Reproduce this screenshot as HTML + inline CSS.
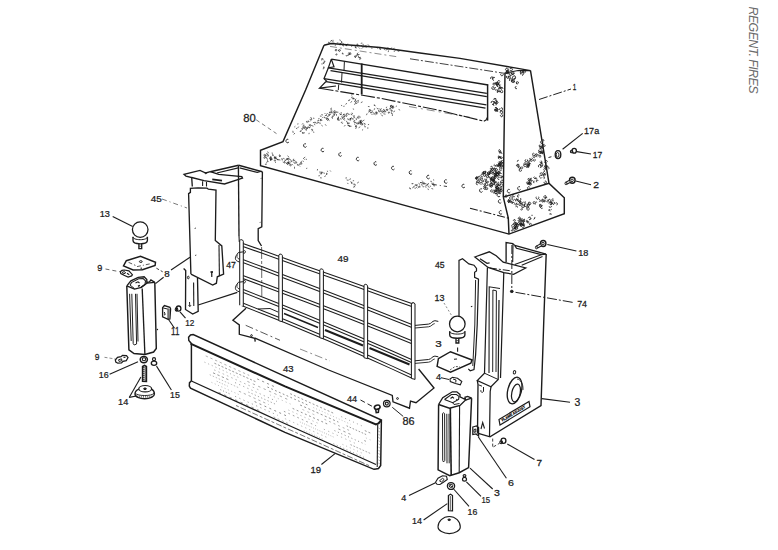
<!DOCTYPE html><html><head><meta charset="utf-8"><title>Exploded view</title><style>html,body{margin:0;padding:0;background:#fff}svg{display:block}text{font-family:"Liberation Sans",sans-serif;fill:#1c1c1c;stroke:#1c1c1c;stroke-width:0.25px}</style></head><body><svg width="778" height="550" viewBox="0 0 778 550"><rect width="778" height="550" fill="#fff"/>
<path d="M324.0 45.3 L305.6 90.0 L283.0 141.6 L260.5 150.3 L260.5 165.8 L509.0 234.1 L564.3 213.8 L564.3 197.8 L549.0 183.3 L530.5 70.6" fill="none" stroke="#1c1c1c" stroke-width="1.44"/>
<path d="M324.0 45.3 L331.0 43.6 L380.0 47.5 L420.0 53.0 L460.0 58.4 L515.0 67.9 L530.5 70.6" fill="none" stroke="#1c1c1c" stroke-width="1.46"/>
<path d="M330.0 46.4 L398.0 56.9" fill="none" stroke="#1c1c1c" stroke-width="0.85" stroke-dasharray="7 3 2 3" opacity="0.6"/>
<path d="M410.0 58.8 L504.4 73.3" fill="none" stroke="#1c1c1c" stroke-width="0.98" stroke-dasharray="9 2 2 2" opacity="0.85"/>
<path d="M504.4 73.3 L518.0 70.5 L530.5 70.6" fill="none" stroke="#1c1c1c" stroke-width="1.10"/>
<path d="M505.0 73.3 L504.0 140.0 L503.3 197.1" fill="none" stroke="#1c1c1c" stroke-width="1.46"/>
<path d="M503.3 197.1 L549.0 183.3" fill="none" stroke="#1c1c1c" stroke-width="1.46"/>
<path d="M503.3 197.1 L508.3 218.1 L509.0 234.1" fill="none" stroke="#1c1c1c" stroke-width="1.46"/>
<path d="M470.0 208.2 L508.3 218.1" fill="none" stroke="#1c1c1c" stroke-width="1.10" stroke-dasharray="8 2 2 2"/>
<path d="M420.0 182.5 L447.0 186.5" fill="none" stroke="#1c1c1c" stroke-width="0.85" stroke-dasharray="5 3 1 3"/>
<path d="M331.3 59.1 L488.2 85.0" fill="none" stroke="#1c1c1c" stroke-width="1.46"/>
<path d="M328.4 67.8 L486.8 93.4" fill="none" stroke="#1c1c1c" stroke-width="1.34"/>
<path d="M330.5 70.7 L486.8 96.6" fill="none" stroke="#1c1c1c" stroke-width="1.22"/>
<path d="M324.0 78.7 L486.4 104.9" fill="none" stroke="#1c1c1c" stroke-width="1.34"/>
<path d="M326.0 81.6 L485.5 108.2" fill="none" stroke="#1c1c1c" stroke-width="1.22"/>
<path d="M319.6 88.2 L380.0 98.2 L440.0 110.5 L483.8 121.2" fill="none" stroke="#1c1c1c" stroke-width="1.10" stroke-dasharray="14 2 3 2"/>
<path d="M409.0 106.5 L470.0 117.3" fill="none" stroke="#1c1c1c" stroke-width="0.85" stroke-dasharray="8 4 2 4" opacity="0.6"/>
<path d="M483.8 121.2 L486.0 120.0 L487.6 117.0" fill="none" stroke="#1c1c1c" stroke-width="1.10"/>
<path d="M487.6 84.5 L487.6 120.6" fill="none" stroke="#1c1c1c" stroke-width="1.46"/>
<path d="M331.3 59.1 L328.4 67.8 L334.0 66.8 L331.3 59.1" fill="none" stroke="#1c1c1c" stroke-width="1.22"/>
<path d="M328.4 67.8 L324.0 78.7 L326.5 81.0 L319.6 88.2 L336.0 86.0" fill="none" stroke="#1c1c1c" stroke-width="1.22"/>
<path d="M361.7 63.5 L361.7 94.5" fill="none" stroke="#1c1c1c" stroke-width="1.83"/>
<path d="M344.4 61.5 L344.0 70.5" fill="none" stroke="#1c1c1c" stroke-width="0.98"/>
<path d="M342.0 73.0 L341.5 82.5" fill="none" stroke="#1c1c1c" stroke-width="0.98"/>
<path d="M338.7 84.5 L338.3 90.0" fill="none" stroke="#1c1c1c" stroke-width="0.98"/>
<path d="M288.3 139.4a1.6 1.8 0 1 0 0.6 2.6" fill="none" stroke="#1c1c1c" stroke-width="0.9"/>
<path d="M305.9 143.9a1.6 1.8 0 1 0 0.6 2.6" fill="none" stroke="#1c1c1c" stroke-width="0.9"/>
<path d="M323.5 148.4a1.6 1.8 0 1 0 0.6 2.6" fill="none" stroke="#1c1c1c" stroke-width="0.9"/>
<path d="M341.1 152.9a1.6 1.8 0 1 0 0.6 2.6" fill="none" stroke="#1c1c1c" stroke-width="0.9"/>
<path d="M358.7 157.4a1.6 1.8 0 1 0 0.6 2.6" fill="none" stroke="#1c1c1c" stroke-width="0.9"/>
<path d="M376.3 161.9a1.6 1.8 0 1 0 0.6 2.6" fill="none" stroke="#1c1c1c" stroke-width="0.9"/>
<path d="M393.9 166.4a1.6 1.8 0 1 0 0.6 2.6" fill="none" stroke="#1c1c1c" stroke-width="0.9"/>
<path d="M411.5 170.9a1.6 1.8 0 1 0 0.6 2.6" fill="none" stroke="#1c1c1c" stroke-width="0.9"/>
<path d="M429.1 175.4a1.6 1.8 0 1 0 0.6 2.6" fill="none" stroke="#1c1c1c" stroke-width="0.9"/>
<path d="M446.7 179.9a1.6 1.8 0 1 0 0.6 2.6" fill="none" stroke="#1c1c1c" stroke-width="0.9"/>
<path d="M464.3 184.4a1.6 1.8 0 1 0 0.6 2.6" fill="none" stroke="#1c1c1c" stroke-width="0.9"/>
<path d="M481.9 188.9a1.6 1.8 0 1 0 0.6 2.6" fill="none" stroke="#1c1c1c" stroke-width="0.9"/>
<path d="M499.5 193.4a1.6 1.8 0 1 0 0.6 2.6" fill="none" stroke="#1c1c1c" stroke-width="0.9"/>
<path d="M500.7 199.8a1.6 1.8 0 1 0 0.6 2.6" fill="none" stroke="#1c1c1c" stroke-width="0.9"/>
<path d="M509.7 189.5a1.6 1.8 0 1 0 0.6 2.6" fill="none" stroke="#1c1c1c" stroke-width="0.9"/>
<path d="M520.0 186.8a1.6 1.8 0 1 0 0.6 2.6" fill="none" stroke="#1c1c1c" stroke-width="0.9"/>
<path d="M501.5 210.8a1.6 1.8 0 1 0 0.6 2.6" fill="none" stroke="#1c1c1c" stroke-width="0.9"/>
<path d="M351.8 46.0l-0.1 0.5M355.0 45.4l0.1 0.4M334.0 43.1l1.1 0.4M341.4 41.4l0.3 0.9M398.8 50.5l0.6 0.3M335.4 45.0l-0.1 0.5M371.6 48.2l0.4 0.1M341.8 42.2l-0.2 0.7M359.0 47.7l0.7 0.7M365.6 46.1l0.7 0.8M397.6 50.8l1.0 0.5M364.1 46.3l-0.2 1.1M388.5 50.8l-0.2 0.9M361.6 42.9l-0.4 0.7M331.7 40.5l-1.1 0.7M346.5 45.4l0.1 0.4M340.1 43.5l1.0 0.4M343.3 45.5l0.1 0.5M368.2 44.7l0.8 0.9M355.4 47.3l1.1 0.6M340.4 44.2l-0.2 0.8M347.7 44.0l-0.2 0.7M394.1 48.2l-0.5 0.8M333.6 40.9l-1.0 0.7M355.0 45.4l1.0 0.2M332.9 43.1l0.7 0.1M328.4 42.3l0.7 0.1M388.6 48.5l0.3 0.6M355.3 46.5l0.1 1.3M362.4 46.1l0.5 0.5M386.2 48.8l-0.1 1.3M338.0 42.9l-0.9 0.1M388.1 47.9l0.6 0.4M379.8 47.7l0.5 0.4M387.3 48.2l-0.9 0.6M380.0 49.4l0.7 0.1M329.8 43.0l-1.0 0.1M362.9 44.0l0.5 1.1M343.6 44.5l-0.2 0.5M391.8 47.9l-0.8 0.6M332.4 40.1l-0.8 0.8M362.5 47.8l-0.6 0.4M395.0 50.6l-0.8 1.0M340.4 43.7l-1.0 0.7M339.9 39.8l0.4 0.9M366.6 46.5l-0.6 1.1M366.1 45.6l-1.0 0.6M342.8 44.6l-0.2 0.6M345.6 44.3l0.5 1.1M357.6 44.1l-0.8 0.2M361.6 45.6l0.1 0.4M343.1 43.4l0.0 0.6M377.7 47.3l-0.1 0.9M384.2 49.3l0.4 0.5M380.4 48.1l-1.0 0.3M357.9 44.4l-0.5 0.7M358.2 45.2l-0.7 1.0M390.3 48.6l-0.9 0.2M387.2 49.2l0.8 0.2M346.6 44.6l-1.0 0.4" fill="none" stroke="#1c1c1c" stroke-width="0.8" stroke-linecap="round" opacity="0.8"/>
<path d="M340.1 51.1A1.0 0.8 0 1 1 340.4 50.7M360.2 56.9A0.9 0.9 0 1 1 358.6 56.3M348.5 55.8A0.9 0.9 0 1 1 349.6 54.4M348.3 53.4A0.8 1.0 0 1 1 349.0 54.7M357.2 55.6A0.6 0.6 0 1 1 357.7 55.5M336.6 53.5A0.7 0.8 0 1 1 335.6 54.4M351.4 53.9A0.9 0.7 0 1 1 350.8 52.8M359.3 54.1A0.9 1.1 0 1 1 358.1 52.7M347.4 55.2A0.7 0.7 0 1 1 346.0 55.3M343.6 53.8A0.7 0.6 0 1 1 342.9 52.9M355.6 57.5A0.7 0.7 0 1 1 355.3 56.1M336.5 50.8A0.8 0.7 0 1 1 336.8 50.5M356.0 55.4A0.8 0.8 0 1 1 355.0 55.6M359.6 57.6A0.9 0.8 0 1 1 359.1 58.8" fill="none" stroke="#1c1c1c" stroke-width="0.80"/>
<path d="M322.6 59.1l0.7 0.8M324.8 61.5l-0.6 1.0M323.2 63.0l0.7 0.4M323.5 67.6l-0.2 1.3M324.1 61.2l0.7 0.0M322.0 63.6l-0.0 0.6M322.0 58.6l0.8 0.1M321.8 59.2l-0.1 0.9M323.9 66.8l0.4 1.1M324.0 62.5l-0.5 0.9" fill="none" stroke="#1c1c1c" stroke-width="0.8" stroke-linecap="round" opacity="0.8"/>
<path d="M302.9 123.5l-0.6 0.7M328.1 120.0l-0.7 0.4M327.3 113.4l-0.7 1.0M321.7 119.7l0.2 0.5M303.7 124.8l-0.4 0.9M320.9 119.1l-0.8 0.8M310.5 120.9l-0.3 0.3M308.8 127.1l0.8 0.6M326.8 117.6l0.0 0.7M321.7 114.7l0.9 0.2M302.9 132.9l-0.1 0.7M300.8 130.7l-0.6 0.8M320.0 122.9l0.1 0.8M303.7 126.8l-1.3 0.3M292.9 131.2l0.2 1.3M309.1 133.2l-0.1 0.6M295.0 126.5l-0.4 0.3M319.1 118.6l-0.6 0.2M314.8 122.3l0.1 0.8M310.1 127.4l-0.6 0.3M298.1 123.9l-0.5 0.1M324.4 117.1l0.2 0.7M329.4 112.4l0.5 0.6M304.5 132.8l-0.6 0.1M306.1 129.8l0.2 0.5M334.9 110.8l-0.9 0.3M325.1 113.4l-0.3 0.3M313.4 118.2l0.6 0.1M332.0 117.8l0.4 0.6M325.6 117.8l0.6 0.8M315.4 122.3l0.4 0.3M326.5 115.5l-1.2 0.0M314.6 124.4l0.2 0.4M301.3 131.0l-0.9 0.3M320.7 119.7l0.3 0.8M311.9 125.6l1.2 0.5M310.7 117.3l0.4 0.4M303.6 128.1l-1.1 0.6M328.5 116.1l-1.0 0.3M314.0 122.4l-0.7 0.2M331.3 110.0l0.6 0.2M298.5 126.9l-0.8 1.0M320.3 116.1l0.9 0.1M325.4 124.6l0.6 0.8M302.3 132.5l1.0 0.4M296.2 128.2l0.6 0.5M321.1 120.6l-0.8 0.1M322.6 117.3l0.4 0.4M329.9 112.0l0.0 0.4M318.8 120.4l-1.0 0.2M308.6 127.0l-0.4 0.7M306.3 121.8l0.7 0.5M328.7 120.0l0.5 0.4M321.7 125.4l0.7 0.5M301.5 128.8l1.1 0.6M313.4 132.1l0.5 0.1M294.7 133.3l-0.8 0.9M334.5 112.8l-0.6 0.1M328.0 119.0l0.3 0.7M309.4 124.9l0.3 0.6" fill="none" stroke="#1c1c1c" stroke-width="0.8" stroke-linecap="round" opacity="0.8"/>
<path d="M338.2 119.9A0.7 0.8 0 1 1 338.7 119.5M317.3 123.8A1.0 0.9 0 1 1 318.9 123.2M333.9 114.4A0.9 0.7 0 1 1 332.8 115.8M304.1 125.9A1.0 0.9 0 1 1 303.3 127.2M330.7 111.4A0.7 0.6 0 1 1 330.3 112.6M329.9 114.6A0.6 0.6 0 1 1 328.9 114.4M335.4 113.6A0.8 0.9 0 1 1 336.1 112.9M308.2 120.6A0.9 0.8 0 1 1 307.1 120.8M308.1 128.2A0.7 0.6 0 1 1 308.1 127.6M305.5 129.7A1.0 1.2 0 1 1 306.1 129.7M309.3 125.5A0.9 0.8 0 1 1 310.3 126.3M310.9 118.3A0.9 0.8 0 1 1 310.0 118.9M326.9 119.9A0.9 0.8 0 1 1 328.4 119.4M311.3 129.8A0.7 0.9 0 1 1 311.7 130.9" fill="none" stroke="#1c1c1c" stroke-width="0.70"/>
<path d="M351.1 126.3l-1.0 0.0M330.0 114.6l-1.1 0.3M334.7 114.5l-0.6 0.0M356.2 118.5l0.2 1.2M344.0 106.1l-0.1 0.5M354.6 124.4l0.4 0.3M337.4 112.2l0.6 0.0M343.4 114.3l0.5 0.4M358.1 122.7l0.2 0.5M350.5 118.4l-0.3 0.4M346.4 121.1l0.7 1.0M349.5 123.2l-1.2 0.0M347.7 123.2l0.6 0.0M356.3 128.0l-0.7 0.3M349.1 119.0l-0.4 0.8M367.8 127.7l-0.0 0.7M337.7 118.8l1.2 0.4M353.2 109.0l0.5 0.2M368.7 124.5l-0.4 0.1M351.0 114.3l1.0 0.6M359.9 127.0l-1.0 0.6M340.7 118.5l0.3 0.8M338.1 120.1l1.2 0.2M352.0 118.8l1.1 0.4M347.8 118.7l0.2 0.7M347.4 122.8l0.2 0.8M331.3 109.2l-0.5 0.4M356.5 123.6l0.8 0.3M336.5 114.5l-0.0 0.8M334.2 111.3l-0.8 0.7M354.8 120.7l-0.7 0.1M346.7 103.5l-0.9 0.6M344.8 114.2l-1.2 0.3M341.5 105.3l0.2 0.4M362.8 129.7l-0.5 0.4M329.6 113.9l0.4 0.4M349.7 120.1l0.5 0.3M360.3 117.4l-0.4 0.3M332.1 112.5l-0.7 0.3M344.5 115.8l-0.5 0.0M348.5 125.2l-0.6 0.0M348.1 125.3l0.7 0.4M364.9 124.6l-0.3 0.6M360.4 122.7l0.7 0.0M338.4 116.9l-0.0 0.8M364.6 126.7l1.0 0.1M332.9 113.5l0.5 0.5M350.4 118.7l0.1 1.0M341.1 112.7l0.5 0.2M359.2 115.9l0.5 0.6M331.2 108.1l-0.3 0.6M354.2 115.7l-0.6 0.2M331.4 111.8l0.6 0.1M364.0 123.3l1.1 0.5M336.7 111.8l-0.8 0.5M338.4 117.6l-0.4 0.2M359.0 122.5l-0.8 0.8M348.7 114.1l0.6 0.2M344.9 116.1l-0.6 0.9M360.3 120.8l0.2 0.9M356.1 122.6l-1.0 0.1M341.5 114.6l0.5 0.4M364.0 120.2l-0.6 0.3M345.1 125.3l-0.6 0.8M359.8 120.7l-0.7 0.9M355.5 126.5l0.5 0.8M339.6 113.8l1.1 0.5M342.1 118.1l0.6 0.3M340.9 114.0l-0.6 0.8M362.5 124.5l-0.6 0.4" fill="none" stroke="#1c1c1c" stroke-width="0.8" stroke-linecap="round" opacity="0.8"/>
<path d="M362.2 120.7A1.0 0.8 0 1 1 361.8 120.4M343.4 115.9A0.9 1.0 0 1 1 342.3 115.9M355.3 122.4A0.9 0.8 0 1 1 354.5 121.0M351.2 119.5A0.9 0.8 0 1 1 352.3 118.5M357.6 123.1A0.6 0.6 0 1 1 357.8 124.0M355.4 126.1A0.7 0.6 0 1 1 355.5 126.5M360.9 123.2A0.9 0.7 0 1 1 361.3 123.0M344.8 120.0A0.8 0.9 0 1 1 345.1 118.7M346.7 116.5A0.9 0.7 0 1 1 347.4 115.5M360.2 122.5A0.9 0.9 0 1 1 359.6 123.4M343.1 123.0A1.0 0.8 0 1 1 341.8 121.7M346.6 114.9A1.0 0.9 0 1 1 348.2 114.5M351.7 112.9A0.7 0.6 0 1 1 351.7 114.1M358.6 118.2A0.8 0.8 0 1 1 359.0 117.7M332.8 117.7A0.7 0.7 0 1 1 333.3 116.7M362.5 124.9A0.7 0.6 0 1 1 363.2 124.2M349.3 125.5A0.6 0.5 0 1 1 349.0 125.6M353.6 116.4A0.8 0.8 0 1 1 353.2 117.7" fill="none" stroke="#1c1c1c" stroke-width="0.70"/>
<path d="M371.9 114.1l0.1 0.4M390.7 106.0l0.1 1.0M370.1 109.8l-1.0 0.3M377.0 108.3l0.6 0.5M392.9 106.0l-0.9 0.5M386.6 107.1l-0.3 0.6M367.0 113.8l-0.4 1.0M373.0 112.3l0.3 0.9M389.8 108.6l-0.8 0.6M372.6 110.9l-0.1 0.4M374.1 105.3l0.8 0.3M381.2 108.6l-0.4 0.8M390.2 108.3l1.0 0.8M385.1 112.0l-0.5 0.0M380.6 111.3l0.8 0.0M377.0 112.3l0.5 0.5M374.4 104.9l0.7 0.6M390.6 109.9l-0.4 0.3M390.3 106.6l0.7 0.6M394.7 111.1l-1.0 0.6M381.1 113.3l-0.4 0.3M379.9 108.9l0.5 0.5M380.9 110.5l0.7 0.8M374.4 113.8l-0.3 0.7M383.9 113.9l1.2 0.2M396.6 106.1l-0.5 0.3M387.4 109.5l-0.6 1.1M376.7 111.9l-0.5 0.4M381.6 115.2l1.0 0.6M391.2 105.6l-0.9 0.3M392.6 107.4l-0.1 1.0M385.3 111.1l0.6 0.7M377.0 113.4l0.0 0.5M369.3 111.6l-0.8 0.4M369.8 109.5l-0.4 0.8M391.3 110.6l1.2 0.3M386.7 109.0l-0.5 0.8M392.4 114.7l0.0 0.9M399.0 109.3l0.5 0.8M391.9 110.8l-0.7 0.6M371.8 112.2l-0.8 0.5M378.0 108.5l0.6 0.6M386.9 109.4l0.6 1.0M376.5 114.0l-0.8 0.6M368.3 106.5l0.9 0.1" fill="none" stroke="#1c1c1c" stroke-width="0.8" stroke-linecap="round" opacity="0.8"/>
<path d="M380.0 110.5A0.8 0.9 0 1 1 379.2 110.0M390.7 105.8A0.9 0.9 0 1 1 390.6 106.8M374.4 108.4A0.6 0.5 0 1 1 373.8 109.4M392.3 107.9A0.9 1.0 0 1 1 393.0 108.2M375.6 113.9A0.8 0.9 0 1 1 376.5 113.7M371.5 112.2A0.9 1.1 0 1 1 371.6 111.0M383.0 109.9A1.0 1.0 0 1 1 382.8 110.3M383.4 112.9A0.7 0.5 0 1 1 383.4 111.6M392.7 113.7A0.9 0.8 0 1 1 391.7 112.3M389.1 113.3A0.6 0.7 0 1 1 389.5 112.9" fill="none" stroke="#1c1c1c" stroke-width="0.70"/>
<path d="M358.5 100.2l-0.6 0.8M355.9 99.0l-0.8 1.0M352.7 98.3l1.1 0.3M353.0 98.0l0.1 1.2M349.0 100.0l-0.4 0.7M352.0 96.9l-0.4 0.9M351.8 101.5l-1.0 0.8M355.5 100.6l-0.8 1.0M357.1 103.0l-1.1 0.6M355.3 101.9l0.5 1.1M353.8 98.1l0.7 0.9M349.9 99.9l-0.8 0.5M362.2 102.0l-1.0 0.5M355.2 103.5l-0.6 0.9M358.7 101.8l-0.7 0.5M352.0 94.5l-0.2 0.6M355.6 100.6l-0.4 0.4M357.2 101.0l-0.8 0.7" fill="none" stroke="#1c1c1c" stroke-width="0.8" stroke-linecap="round" opacity="0.8"/>
<path d="M268.3 155.0l-0.1 1.2M282.0 158.8l0.5 0.3M290.4 164.3l-0.0 0.8M279.3 159.8l0.7 0.2M290.3 159.5l0.4 0.8M286.0 160.2l-1.2 0.5M281.9 159.0l0.3 1.1M303.4 158.4l0.9 0.9M266.1 158.0l0.5 0.1M289.0 158.2l-1.2 0.4M264.3 154.9l-0.5 0.1M270.9 156.5l-0.6 1.1M278.6 159.7l-1.3 0.0M275.2 158.3l-0.7 0.2M301.5 162.5l-0.7 0.9M291.5 161.1l-0.4 0.4M301.5 161.4l-0.7 0.6M267.4 158.8l0.0 0.5M271.0 158.9l1.0 0.0M293.7 162.5l1.0 0.8M306.2 159.1l0.1 0.5M272.8 154.4l0.1 1.0M279.3 155.9l0.9 0.4M277.2 159.3l0.8 0.4M299.4 165.8l0.4 0.4M297.6 164.2l0.5 0.7M306.9 168.3l-0.4 0.1M292.2 164.4l0.5 0.5M266.6 164.1l-1.3 0.3M266.5 162.6l-0.3 0.3M276.5 158.3l0.5 1.0M275.0 157.2l0.7 0.5M283.5 158.4l0.8 0.4M272.0 153.1l0.6 0.1M265.0 154.6l0.5 0.4M287.8 156.0l0.7 0.5M266.4 153.7l1.0 0.2M294.5 167.1l0.0 1.2M267.3 154.4l0.8 0.9M272.9 155.2l0.2 0.5M291.8 160.9l-0.0 0.8M267.8 151.9l0.6 1.0M289.7 164.9l-0.4 0.2M299.8 163.7l-0.1 0.9M266.8 155.8l0.5 0.2M274.6 157.4l-0.3 0.4M275.8 158.0l-0.1 0.9M297.3 165.0l1.0 0.1M265.7 157.1l0.6 0.2M283.1 162.1l1.1 0.5M287.5 158.9l-1.1 0.2M275.2 161.7l0.3 0.8M303.0 161.0l0.3 0.5M286.9 158.9l-1.0 0.7M301.9 163.9l-1.2 0.3M270.7 159.9l-0.1 0.7M263.8 157.9l0.4 0.2M304.9 157.3l-0.8 0.5M300.8 162.6l0.7 0.7M291.3 164.9l-0.5 1.1" fill="none" stroke="#1c1c1c" stroke-width="0.8" stroke-linecap="round" opacity="0.8"/>
<path d="M271.9 158.7A0.7 0.8 0 1 1 270.7 158.4M264.3 155.5A0.7 0.7 0 1 1 265.0 156.2M271.1 160.3A0.8 0.7 0 1 1 272.0 159.4M264.0 156.7A0.8 0.7 0 1 1 263.9 157.6M284.0 161.7A0.8 0.7 0 1 1 284.4 163.0M270.0 158.6A0.6 0.7 0 1 1 270.4 159.5M270.5 159.3A1.0 1.1 0 1 1 271.7 158.1M274.2 160.8A0.6 0.6 0 1 1 275.2 161.1M290.1 162.4A0.9 0.8 0 1 1 288.5 162.2M275.7 156.3A0.9 1.0 0 1 1 274.5 156.4M288.6 158.4A0.9 0.8 0 1 1 288.1 158.4M295.2 162.0A0.8 0.8 0 1 1 295.1 162.4M278.9 155.3A0.8 0.7 0 1 1 279.1 156.3M286.4 163.5A0.8 0.8 0 1 1 287.1 164.5M289.4 162.9A0.7 0.7 0 1 1 289.4 161.6M287.2 164.3A0.9 1.1 0 1 1 287.9 164.4M268.4 161.2A0.6 0.6 0 1 1 268.0 160.6M294.8 159.9A0.8 0.9 0 1 1 294.1 159.1" fill="none" stroke="#1c1c1c" stroke-width="0.70"/>
<path d="M319.5 175.7l-0.7 0.1M324.0 172.8l0.2 0.7M320.0 171.7l0.1 1.3M317.5 169.4l-0.1 0.7M327.4 173.9l-1.1 0.7M325.6 175.9l-0.9 0.5M330.3 170.8l0.3 0.4M321.5 173.4l-0.2 0.5M320.4 177.8l1.0 0.1M321.7 172.3l1.0 0.0M321.3 172.1l0.8 0.6M321.1 173.0l-0.1 1.0M327.3 171.2l0.4 0.2M326.5 173.2l-0.0 0.6" fill="none" stroke="#1c1c1c" stroke-width="0.8" stroke-linecap="round" opacity="0.8"/>
<path d="M353.2 180.7l0.5 0.0M354.2 186.2l0.6 0.4M354.5 183.9l0.4 0.8M351.9 182.3l-0.3 1.2M354.8 185.0l0.6 0.1M358.5 182.2l-1.0 0.7M346.6 177.9l-0.8 0.1M347.7 183.2l0.3 0.5M352.9 183.9l0.5 0.3M353.9 186.8l-0.1 0.6M347.0 180.0l0.7 0.2M350.2 178.7l0.5 0.4M350.9 181.7l0.5 0.9M349.3 179.7l-0.6 0.3" fill="none" stroke="#1c1c1c" stroke-width="0.8" stroke-linecap="round" opacity="0.8"/>
<path d="M409.4 187.9l1.0 0.5M418.8 183.5l1.0 0.8M433.1 183.1l0.7 0.3M428.0 188.9l0.4 0.8M415.2 185.1l1.1 0.4M421.7 184.5l0.4 1.0M425.4 183.6l0.7 0.2M415.8 184.7l0.9 0.3M422.9 186.7l0.7 0.1M418.3 186.9l0.7 0.8M423.7 183.3l-1.1 0.5M413.3 187.0l-0.5 0.9M416.4 187.3l0.7 0.7M430.2 186.1l0.5 0.2M433.4 179.9l0.4 0.1M414.8 188.1l0.7 0.1M417.2 184.7l-0.3 1.1M428.6 186.5l0.5 0.9M411.9 183.7l0.7 0.1M431.7 183.2l0.6 0.2M431.8 188.6l1.0 0.3M425.2 186.5l0.7 0.9M414.5 185.9l-0.7 1.0M430.7 181.3l0.8 0.1M425.8 185.4l1.1 0.5M433.1 184.9l0.8 0.8M427.3 184.2l0.6 0.6M410.1 188.5l0.3 0.5M412.7 183.3l0.4 0.4M418.5 186.7l0.4 0.6M434.8 185.7l-0.6 0.4M424.3 183.5l-0.3 1.0M422.4 181.0l0.3 0.4M419.6 186.3l0.5 0.4M427.2 184.5l0.1 0.7M419.9 186.3l-0.4 0.0" fill="none" stroke="#1c1c1c" stroke-width="0.8" stroke-linecap="round" opacity="0.8"/>
<path d="M498.7 163.6A1.4 1.2 0 1 1 497.6 165.0M494.9 178.0A1.1 1.3 0 1 1 494.6 175.9M498.4 181.8A1.2 1.1 0 1 1 496.3 181.5M484.9 170.9A1.3 1.1 0 1 1 483.4 172.5M498.0 188.3A0.9 1.0 0 1 1 497.4 187.9M499.4 173.9A1.3 1.2 0 1 1 499.8 171.8M496.1 174.1A0.9 1.0 0 1 1 494.8 175.4M496.6 186.6A1.3 1.3 0 1 1 496.1 187.0M494.3 170.5A1.1 1.2 0 1 1 495.6 168.8M486.5 178.7A0.9 0.8 0 1 1 484.9 178.6M488.0 184.0A1.3 1.5 0 1 1 487.7 183.1M492.5 172.5A1.1 1.0 0 1 1 492.3 174.1M494.0 182.0A1.3 1.2 0 1 1 492.1 183.5M493.0 181.3A0.9 0.9 0 1 1 494.4 180.3M495.0 190.5A1.3 1.6 0 1 1 494.6 190.1M498.0 188.1A1.2 1.1 0 1 1 497.6 186.7M494.8 191.7A1.2 1.1 0 1 1 496.6 192.5M501.4 163.1A1.2 1.0 0 1 1 502.0 161.4M496.6 174.0A1.0 1.1 0 1 1 497.0 175.4M493.0 170.6A1.3 1.1 0 1 1 493.7 169.0M501.6 170.3A1.1 1.1 0 1 1 500.7 168.6M494.9 170.5A0.9 0.9 0 1 1 495.3 171.6M482.6 179.6A1.1 1.1 0 1 1 482.7 178.9M499.5 187.2A1.4 1.2 0 1 1 499.8 185.9M500.8 175.7A1.4 1.5 0 1 1 501.5 174.0M485.5 184.9A0.9 0.8 0 1 1 484.7 183.6M496.0 171.3A1.2 1.4 0 1 1 497.6 170.4M495.6 188.9A1.4 1.2 0 1 1 495.6 189.8M499.0 172.0A1.2 1.0 0 1 1 498.1 172.3M493.1 184.5A1.2 1.3 0 1 1 490.7 184.6M483.1 180.1A0.9 0.9 0 1 1 482.6 180.1M487.6 173.5A1.3 1.1 0 1 1 488.9 174.3M476.9 177.0A0.9 0.8 0 1 1 475.8 177.5M498.8 175.7A1.3 1.4 0 1 1 499.1 174.0M500.9 192.8A1.0 1.0 0 1 1 499.2 192.0M501.7 188.3A0.9 1.0 0 1 1 501.6 187.6M493.1 179.5A1.3 1.5 0 1 1 493.3 177.5M496.3 166.8A0.9 1.0 0 1 1 496.8 166.9M478.4 178.0A1.1 1.0 0 1 1 479.7 178.1M490.6 166.9A1.0 1.0 0 1 1 492.0 168.2M503.1 162.7A1.2 1.1 0 1 1 502.8 160.6M493.6 171.8A1.1 1.3 0 1 1 493.5 172.3M478.3 180.1A1.3 1.4 0 1 1 477.2 180.5M496.9 175.6A1.3 1.5 0 1 1 497.7 175.5M498.0 171.1A1.2 1.3 0 1 1 496.7 172.2M490.7 180.8A0.8 0.8 0 1 1 492.1 180.9M501.7 177.8A0.9 0.9 0 1 1 503.3 177.3M485.3 171.1A1.1 1.1 0 1 1 483.7 171.3M491.0 172.3A1.0 1.1 0 1 1 490.2 170.9M494.9 192.1A1.4 1.1 0 1 1 496.6 191.9M487.3 181.2A1.0 1.0 0 1 1 486.8 180.4M499.4 163.6A1.3 1.2 0 1 1 501.5 164.6M476.7 179.4A1.2 1.2 0 1 1 477.9 177.6M487.8 180.8A1.2 1.3 0 1 1 485.9 181.6M503.1 182.0A1.3 1.2 0 1 1 503.3 181.1M483.3 174.6A1.3 1.5 0 1 1 483.8 176.0M487.4 175.1A1.2 1.3 0 1 1 486.3 176.5M490.4 169.3A0.8 0.8 0 1 1 491.2 169.7M494.5 182.5A1.1 1.3 0 1 1 495.1 180.5M497.0 192.9A1.2 1.1 0 1 1 496.8 191.8M483.2 176.4A1.3 1.4 0 1 1 482.4 174.1M492.1 179.3A1.1 1.2 0 1 1 492.1 180.6M490.8 186.0A1.2 1.4 0 1 1 491.8 185.6M491.4 185.3A1.1 1.1 0 1 1 489.7 184.6M502.8 165.1A1.1 1.2 0 1 1 502.2 164.1M491.8 192.1A1.3 1.0 0 1 1 492.3 189.8M483.3 172.8A1.1 1.3 0 1 1 485.2 173.7M492.3 171.8A1.2 1.1 0 1 1 492.8 171.3M477.7 184.8A1.4 1.5 0 1 1 479.0 183.4M490.3 186.5A1.0 0.8 0 1 1 490.6 187.0M498.1 163.7A1.0 0.9 0 1 1 497.7 164.3M497.1 175.4A1.4 1.2 0 1 1 495.6 174.7M487.9 174.9A0.9 1.0 0 1 1 489.5 175.0M498.2 172.3A0.9 0.8 0 1 1 497.4 171.5M500.5 191.6A1.3 1.1 0 1 1 501.4 191.3M491.6 178.3A0.9 0.9 0 1 1 490.7 178.0M494.4 180.3A0.9 0.9 0 1 1 493.9 180.0M500.0 191.1A1.3 1.2 0 1 1 500.4 190.8M477.8 177.5A0.8 0.7 0 1 1 477.6 177.1M499.4 166.6A1.2 1.1 0 1 1 499.0 164.3M502.4 184.4A1.4 1.2 0 1 1 500.1 185.6M500.7 184.5A1.1 1.1 0 1 1 499.3 183.2M484.1 173.0A1.0 0.8 0 1 1 483.8 172.4M493.6 169.4A0.9 0.8 0 1 1 494.4 169.9M499.6 178.9A1.0 1.2 0 1 1 499.5 177.5M492.7 172.1A1.3 1.2 0 1 1 491.8 171.2M487.0 175.9A0.8 0.8 0 1 1 486.6 174.8M497.0 174.8A1.2 1.2 0 1 1 496.3 173.6M496.9 183.8A1.3 1.3 0 1 1 496.1 182.8M491.6 177.2A1.0 1.0 0 1 1 490.2 176.5M486.0 188.4A1.2 1.1 0 1 1 485.9 187.8M496.8 175.8A0.9 1.0 0 1 1 497.3 174.1M500.7 191.7A1.2 1.3 0 1 1 499.4 190.1M496.4 173.3A0.8 0.9 0 1 1 495.9 172.7M495.8 181.2A0.9 1.0 0 1 1 495.1 180.3M491.2 185.0A1.1 1.2 0 1 1 492.5 185.3M489.8 182.0A0.9 0.8 0 1 1 490.2 183.0M501.1 175.9A1.1 1.0 0 1 1 500.2 177.2M483.7 187.0A1.1 1.3 0 1 1 484.5 188.2M488.8 171.9A1.1 1.2 0 1 1 487.6 172.1M502.1 190.7A1.0 1.2 0 1 1 502.0 189.9M484.0 175.5A0.9 1.0 0 1 1 484.8 174.4M496.0 177.9A1.0 1.1 0 1 1 496.1 177.6M494.0 177.1A1.3 1.3 0 1 1 492.5 178.9M491.9 180.6A1.0 1.0 0 1 1 492.7 179.2M475.4 178.5A0.8 0.9 0 1 1 476.3 179.7M489.4 176.9A1.3 1.4 0 1 1 490.1 174.6M499.5 168.6A1.3 1.2 0 1 1 500.8 169.3M478.2 181.0A1.2 1.2 0 1 1 480.2 180.5M496.7 188.6A1.0 1.2 0 1 1 498.0 188.5M486.5 187.6A1.0 1.0 0 1 1 485.7 188.4M480.3 184.5A1.1 1.3 0 1 1 481.8 184.6M498.2 162.5A1.1 1.2 0 1 1 498.6 164.0M493.7 177.6A1.1 1.1 0 1 1 492.2 177.5M500.0 182.6A1.0 1.1 0 1 1 499.6 184.6M495.8 185.4A0.9 0.7 0 1 1 494.9 186.6M501.1 165.6A1.3 1.0 0 1 1 500.8 164.1M497.1 184.9A0.8 0.8 0 1 1 497.6 185.6M496.8 191.7A1.3 1.2 0 1 1 495.0 193.4M496.0 165.0A1.0 0.9 0 1 1 494.5 164.3" fill="none" stroke="#1c1c1c" stroke-width="0.85"/>
<path d="M499.7 153.3A1.1 1.0 0 1 1 501.6 154.0M502.3 164.3A0.9 0.9 0 1 1 502.9 162.6M497.9 156.5A1.0 0.9 0 1 1 497.8 157.4M501.0 167.4A1.1 1.1 0 1 1 502.5 166.7M499.3 159.1A1.2 1.3 0 1 1 500.3 159.0M502.2 157.1A0.8 0.9 0 1 1 500.9 157.1M498.7 150.0A0.9 0.9 0 1 1 498.5 150.5M499.2 163.6A1.0 1.1 0 1 1 499.2 165.3M500.8 152.7A0.9 1.0 0 1 1 501.0 152.0M500.7 156.0A1.2 1.0 0 1 1 498.6 156.4" fill="none" stroke="#1c1c1c" stroke-width="0.80"/>
<path d="M501.5 89.3A1.1 1.0 0 1 1 502.8 88.8M499.4 90.2A1.4 1.6 0 1 1 501.4 88.5M497.5 92.9A1.3 1.3 0 1 1 499.8 92.3M490.7 78.9A1.3 1.5 0 1 1 493.2 78.7M503.2 74.1A1.3 1.2 0 1 1 501.1 73.7M494.0 88.8A1.2 1.3 0 1 1 494.2 88.0M498.0 86.7A1.4 1.3 0 1 1 499.0 86.5M502.8 91.2A1.2 1.2 0 1 1 502.5 90.6M494.0 80.3A1.4 1.5 0 1 1 495.0 78.0M499.8 82.7A1.3 1.3 0 1 1 500.0 81.6M500.5 84.7A1.3 1.4 0 1 1 499.2 82.6M494.7 84.9A1.1 1.0 0 1 1 495.1 84.5M500.8 88.5A1.0 0.9 0 1 1 501.1 88.0M494.9 83.9A1.1 1.1 0 1 1 496.0 84.8M497.5 85.0A1.1 1.2 0 1 1 497.9 83.2M498.5 83.3A1.2 1.3 0 1 1 497.7 82.6M498.9 91.6A1.1 1.1 0 1 1 498.1 89.5M497.0 89.4A1.3 1.3 0 1 1 495.8 87.5" fill="none" stroke="#1c1c1c" stroke-width="0.90"/>
<path d="M496.8 110.8A1.3 1.1 0 1 1 497.3 110.7M494.0 105.8A1.4 1.6 0 1 1 496.0 105.3M494.1 100.0A1.0 1.1 0 1 1 495.9 99.8M498.2 111.2A1.1 1.0 0 1 1 497.8 109.3M500.2 112.8A1.2 1.5 0 1 1 500.8 113.7M494.9 107.8A1.4 1.2 0 1 1 494.5 108.9M497.2 110.0A1.3 1.1 0 1 1 496.4 109.1M501.1 107.7A1.4 1.5 0 1 1 500.1 108.2M497.6 101.7A1.1 1.2 0 1 1 497.1 101.4M501.9 114.7A1.1 1.0 0 1 1 501.1 114.8M491.1 103.0A1.5 1.6 0 1 1 492.0 104.3M495.1 100.3A1.5 1.4 0 1 1 494.3 101.1" fill="none" stroke="#1c1c1c" stroke-width="0.90"/>
<path d="M506.2 70.6A1.3 1.4 0 1 1 507.2 70.8M509.7 73.0A1.4 1.5 0 1 1 509.3 70.9M510.0 81.0A1.4 1.3 0 1 1 511.7 81.0M507.8 77.4A1.3 1.1 0 1 1 508.5 78.2M517.9 83.8A1.1 1.1 0 1 1 518.3 83.4M513.8 72.3A1.2 1.4 0 1 1 512.2 72.1M514.1 78.0A1.1 0.9 0 1 1 512.7 78.4M512.9 72.5A1.1 0.9 0 1 1 511.4 73.5M513.1 78.6A1.5 1.6 0 1 1 513.9 79.0M508.7 70.9A1.2 1.2 0 1 1 507.8 70.1M508.7 76.1A1.2 1.5 0 1 1 506.7 75.9M510.0 69.2A1.2 1.4 0 1 1 510.2 70.3M512.9 82.5A1.1 1.2 0 1 1 513.4 82.6M508.3 72.7A1.2 1.3 0 1 1 508.1 71.6M509.7 73.6A1.2 1.3 0 1 1 509.6 74.1M514.1 80.9A1.4 1.2 0 1 1 513.1 79.9M506.3 71.1A1.2 1.2 0 1 1 505.0 72.8M516.9 88.6A1.2 1.1 0 1 1 516.4 86.5" fill="none" stroke="#1c1c1c" stroke-width="0.90"/>
<path d="M524.7 72.9A1.1 1.0 0 1 1 525.2 72.6M521.5 73.6A1.2 1.4 0 1 1 522.7 72.3M520.8 74.5A1.3 1.5 0 1 1 522.0 75.4" fill="none" stroke="#1c1c1c" stroke-width="0.90"/>
<path d="M526.9 166.6A1.1 1.2 0 1 1 527.8 167.5M520.9 167.6A1.0 0.9 0 1 1 521.4 168.6M539.0 155.8A1.0 0.9 0 1 1 538.9 156.3M526.9 164.6A1.2 1.4 0 1 1 525.7 166.0M521.5 169.7A1.2 1.3 0 1 1 520.7 168.8M530.5 161.4A1.0 1.0 0 1 1 531.3 161.6M523.8 163.5A1.2 1.0 0 1 1 523.9 164.3M527.2 163.8A1.3 1.4 0 1 1 528.0 165.0M527.0 159.9A1.3 1.1 0 1 1 526.1 159.7M534.9 153.5A1.3 1.5 0 1 1 533.8 153.0M533.8 155.3A1.2 1.1 0 1 1 532.9 156.5M517.1 166.2A0.9 0.8 0 1 1 518.0 164.9M537.0 157.2A1.2 1.4 0 1 1 539.0 155.9M529.9 164.0A1.0 0.9 0 1 1 529.2 162.3M531.8 157.7A0.9 0.9 0 1 1 530.6 158.5M525.3 166.6A1.3 1.4 0 1 1 525.9 164.4M536.4 153.5A0.8 0.8 0 1 1 535.5 154.1M517.1 164.8A1.0 1.1 0 1 1 517.4 166.1M529.3 158.3A1.4 1.6 0 1 1 527.5 159.6M518.2 168.2A1.2 1.2 0 1 1 519.1 169.1M527.2 165.8A0.9 0.9 0 1 1 528.0 165.6M530.1 165.3A1.0 1.0 0 1 1 530.7 164.2M541.4 145.5A1.2 1.0 0 1 1 540.4 144.9M527.7 164.5A1.2 1.1 0 1 1 527.0 166.4M517.7 161.8A0.8 0.8 0 1 1 518.8 160.7M540.3 151.1A0.9 1.0 0 1 1 539.5 149.7M534.5 159.2A1.1 0.9 0 1 1 533.7 159.3M519.2 166.9A1.0 1.1 0 1 1 519.2 165.1" fill="none" stroke="#1c1c1c" stroke-width="0.80"/>
<path d="M546.7 168.7A1.2 1.4 0 1 1 548.6 169.2M544.5 176.1A1.2 0.9 0 1 1 545.2 174.5M545.7 173.0A1.3 1.1 0 1 1 544.9 171.4M538.9 152.4A1.2 1.1 0 1 1 540.9 153.1M542.9 177.4A0.9 0.9 0 1 1 543.7 178.7M540.8 163.3A0.8 0.7 0 1 1 541.5 163.8M540.8 160.8A0.9 1.0 0 1 1 540.0 161.6M544.4 162.6A0.8 1.0 0 1 1 545.1 164.0M540.5 151.6A1.2 1.0 0 1 1 539.4 151.7M545.4 145.4A0.8 1.0 0 1 1 544.4 144.4M539.5 146.3A1.4 1.2 0 1 1 539.9 148.6M542.8 141.8A1.2 1.4 0 1 1 540.7 141.2M541.5 147.0A1.3 1.1 0 1 1 540.8 147.0M540.1 174.2A1.2 1.3 0 1 1 541.0 175.3M543.4 146.7A1.0 1.1 0 1 1 544.3 144.9M542.1 140.6A0.9 0.8 0 1 1 542.9 141.2M545.2 161.2A1.0 1.1 0 1 1 546.7 162.4M543.8 175.3A1.0 0.8 0 1 1 544.7 175.5M546.9 165.3A0.8 0.9 0 1 1 545.4 164.7M540.6 165.8A1.2 1.4 0 1 1 541.8 166.3M545.4 166.1A1.2 1.3 0 1 1 543.6 167.8M541.7 177.8A1.4 1.5 0 1 1 542.2 175.8M541.4 154.0A0.9 1.0 0 1 1 542.6 153.6M546.7 165.2A1.4 1.3 0 1 1 545.4 165.1M542.1 153.2A1.3 1.2 0 1 1 542.8 152.9M544.6 167.7A1.1 1.3 0 1 1 543.4 169.4M540.0 152.8A1.4 1.4 0 1 1 542.0 154.3M538.7 167.2A1.3 1.6 0 1 1 539.9 167.8M542.7 146.3A0.8 0.9 0 1 1 541.4 146.4M544.8 181.0A1.2 1.3 0 1 1 544.0 181.9M541.9 151.2A0.9 1.1 0 1 1 541.6 152.8M540.5 165.1A1.2 1.0 0 1 1 541.2 167.0" fill="none" stroke="#1c1c1c" stroke-width="0.80"/>
<path d="M530.2 184.3A0.9 1.0 0 1 1 530.3 183.1M534.4 182.7A0.9 0.8 0 1 1 534.6 181.2M532.7 180.3A1.4 1.5 0 1 1 531.9 178.3M528.8 181.5A1.3 1.2 0 1 1 527.4 181.4M529.4 189.0A1.2 1.3 0 1 1 529.8 187.6M530.6 183.1A1.0 1.1 0 1 1 529.8 182.3M530.3 181.6A0.9 0.8 0 1 1 529.9 181.5M537.2 181.9A1.0 0.9 0 1 1 538.2 181.0M529.3 181.3A1.3 1.1 0 1 1 531.4 180.7M527.3 182.7A1.1 0.9 0 1 1 526.9 183.3M536.1 177.6A1.1 1.0 0 1 1 534.4 176.6M534.8 179.0A0.9 0.9 0 1 1 536.3 179.5M528.7 184.1A1.4 1.1 0 1 1 530.1 185.2M530.3 178.6A1.4 1.2 0 1 1 529.4 178.3" fill="none" stroke="#1c1c1c" stroke-width="0.80"/>
<path d="M525.3 206.4A1.3 1.1 0 1 1 525.3 204.1M516.2 198.5A0.8 0.8 0 1 1 515.4 199.5M511.6 199.0A1.4 1.2 0 1 1 511.6 197.0M507.2 196.3A1.1 1.1 0 1 1 506.9 195.3M508.1 199.9A0.9 1.0 0 1 1 507.7 200.6M525.3 201.4A0.9 0.9 0 1 1 523.8 201.6M528.9 206.6A1.1 0.9 0 1 1 527.3 205.4M515.8 201.4A1.2 1.4 0 1 1 518.0 200.5M510.1 200.8A1.1 1.1 0 1 1 509.9 200.4M514.4 198.8A1.1 1.3 0 1 1 512.7 197.9M511.7 202.1A0.8 0.7 0 1 1 511.6 203.3M528.6 205.9A1.1 1.2 0 1 1 529.7 205.0M511.7 201.3A0.9 0.9 0 1 1 510.1 201.0M520.5 203.3A0.9 0.9 0 1 1 521.3 202.5M520.4 198.0A1.4 1.6 0 1 1 518.2 198.7M523.1 204.5A0.8 0.7 0 1 1 522.6 203.2M528.2 203.3A1.3 1.4 0 1 1 528.4 204.3M519.3 203.1A1.2 1.3 0 1 1 518.8 203.9M528.6 206.2A1.1 1.2 0 1 1 526.6 206.6M512.2 203.5A1.2 1.3 0 1 1 514.2 204.5M516.3 203.4A0.8 0.9 0 1 1 515.3 203.9M522.3 202.1A1.3 1.2 0 1 1 520.1 201.6M529.3 208.3A1.3 1.5 0 1 1 527.0 207.8M513.2 197.8A0.9 0.8 0 1 1 512.7 196.2M510.0 202.0A0.8 1.0 0 1 1 511.0 202.4M515.8 207.1A0.9 0.7 0 1 1 517.0 207.6M524.3 205.9A1.3 1.3 0 1 1 523.7 205.1M518.9 197.1A1.3 1.1 0 1 1 519.4 195.1M520.5 200.5A1.2 0.9 0 1 1 518.6 201.1M519.1 200.7A0.8 0.9 0 1 1 518.1 199.6M508.0 200.0A1.4 1.2 0 1 1 508.0 202.7M527.8 206.2A1.1 1.1 0 1 1 529.5 205.4M518.3 203.8A0.9 0.9 0 1 1 517.2 202.5M521.4 208.2A1.0 0.9 0 1 1 520.5 209.3M526.4 206.1A1.2 1.3 0 1 1 526.5 204.2M515.1 196.1A1.2 1.2 0 1 1 514.1 194.3" fill="none" stroke="#1c1c1c" stroke-width="0.80"/>
<path d="M553.8 200.6A1.2 1.0 0 1 1 553.6 199.1M539.0 199.9A0.9 0.9 0 1 1 539.3 201.5M546.9 200.0A0.9 1.0 0 1 1 546.3 201.4M546.2 198.9A1.0 0.9 0 1 1 546.9 198.1M541.2 204.5A1.2 1.4 0 1 1 540.7 204.3M542.3 205.5A1.2 1.0 0 1 1 540.6 204.1M551.0 205.7A1.1 0.9 0 1 1 549.2 206.3M543.9 200.1A1.1 0.9 0 1 1 543.2 200.7M536.0 204.2A1.2 1.1 0 1 1 537.1 202.4M544.3 197.9A1.1 1.3 0 1 1 544.8 198.2M550.4 202.6A1.0 1.2 0 1 1 551.2 204.3M555.6 203.4A1.0 1.1 0 1 1 556.5 205.0M550.0 202.7A0.9 0.7 0 1 1 550.3 203.0M543.3 200.4A0.8 0.9 0 1 1 542.6 199.1M553.7 202.2A1.1 0.9 0 1 1 552.6 203.5M542.8 202.3A1.2 1.4 0 1 1 543.6 202.1M549.1 201.6A1.1 1.2 0 1 1 550.2 201.3M542.7 208.1A1.3 1.2 0 1 1 542.2 206.1M534.8 203.8A1.3 1.1 0 1 1 534.8 201.7M549.1 203.8A1.3 1.3 0 1 1 549.8 204.4M538.6 196.7A1.4 1.6 0 1 1 536.3 196.7M551.6 205.0A1.0 0.9 0 1 1 553.2 204.8" fill="none" stroke="#1c1c1c" stroke-width="0.80"/>
<path d="M549.4 209.8l-0.9 0.3M551.6 214.2l-1.1 0.0M551.4 209.3l-0.3 0.6M549.6 210.2l0.4 0.8M550.6 213.6l-1.1 0.4M549.7 209.5l-0.5 0.9" fill="none" stroke="#1c1c1c" stroke-width="0.8" stroke-linecap="round" opacity="0.8"/>
<path d="M514.1 224.5A1.0 1.1 0 1 1 514.6 225.1M523.9 226.0A0.9 0.7 0 1 1 524.7 224.8M523.6 224.6A1.2 1.2 0 1 1 522.2 222.9M519.0 219.5A1.2 1.2 0 1 1 519.8 219.6M524.3 219.3A1.1 1.2 0 1 1 522.3 220.2M518.4 223.1A1.3 1.2 0 1 1 519.7 223.8M511.8 229.7A0.9 0.7 0 1 1 511.4 230.0M514.9 226.2A0.9 1.0 0 1 1 515.9 226.7M521.0 223.3A1.3 1.5 0 1 1 520.0 225.4M522.1 221.8A1.4 1.3 0 1 1 521.6 224.2M515.0 223.2A1.1 0.9 0 1 1 515.4 224.4M528.3 221.3A0.9 0.9 0 1 1 527.8 221.3M524.5 220.8A0.9 0.9 0 1 1 522.7 221.2M528.0 218.3A1.4 1.2 0 1 1 529.0 219.7M520.4 220.5A1.0 0.9 0 1 1 521.0 222.0M518.5 224.7A1.0 1.1 0 1 1 518.0 223.8M515.5 230.2A1.2 1.0 0 1 1 516.0 229.7M518.5 218.3A1.2 1.4 0 1 1 517.8 220.3M529.6 224.9A0.9 1.0 0 1 1 531.2 224.8M521.9 225.0A1.4 1.5 0 1 1 522.1 227.2M514.7 228.0A1.2 1.0 0 1 1 516.7 228.0M516.0 227.9A1.1 1.1 0 1 1 517.5 226.5M521.9 223.9A1.1 1.1 0 1 1 520.0 223.7M514.0 225.9A1.4 1.3 0 1 1 513.2 227.9M514.3 228.9A0.9 0.9 0 1 1 514.8 229.2M514.0 224.2A1.2 1.1 0 1 1 514.6 224.5M515.9 227.2A1.2 1.1 0 1 1 515.5 227.6M518.7 220.5A1.2 1.4 0 1 1 519.4 222.4M518.7 226.2A1.3 1.1 0 1 1 519.0 225.1M512.1 226.8A1.3 1.4 0 1 1 514.2 226.3M521.5 220.8A1.0 1.2 0 1 1 522.8 220.7M512.6 228.7A1.3 1.2 0 1 1 514.4 228.7M516.7 223.1A0.8 0.7 0 1 1 516.6 224.6M524.6 224.9A1.0 1.0 0 1 1 524.5 224.0M527.9 220.9A0.9 0.8 0 1 1 527.6 220.5M513.8 221.1A0.9 0.9 0 1 1 514.3 221.3M521.4 224.2A0.9 0.9 0 1 1 520.0 223.2M521.9 226.0A1.2 1.4 0 1 1 522.6 224.9M518.9 225.4A1.0 1.1 0 1 1 520.6 225.1M524.8 221.2A0.9 1.0 0 1 1 525.1 219.7" fill="none" stroke="#1c1c1c" stroke-width="0.80"/>
<path d="M529.9 216.8l0.1 0.4M534.8 217.3l-0.4 1.1M531.1 218.8l-1.1 0.3M534.8 218.0l-0.4 0.6M531.6 215.3l0.9 0.0M534.5 218.6l-0.6 0.7" fill="none" stroke="#1c1c1c" stroke-width="0.8" stroke-linecap="round" opacity="0.8"/>
<path d="M262.4 171.7 L261.8 226.8 L258.2 228.6 L258.2 240.5 L261.5 246.0" fill="none" stroke="#1c1c1c" stroke-width="1.34"/>
<path d="M238.4 165.5 L239.0 236.0" fill="none" stroke="#1c1c1c" stroke-width="1.34"/>
<path d="M239.0 236.0 L239.3 242.0" fill="none" stroke="#1c1c1c" stroke-width="1.10"/>
<path d="M261.6 247.0 L261.8 296.0" fill="none" stroke="#1c1c1c" stroke-width="0.85" stroke-dasharray="12 2 3 2" opacity="0.8"/>
<path d="M238.6 165.3 L262.4 171.7" fill="none" stroke="#1c1c1c" stroke-width="1.46"/>
<path d="M239.6 167.9 L257.3 172.4 L260.5 171.5" fill="none" stroke="#1c1c1c" stroke-width="1.10"/>
<path d="M238.6 165.3 L210.3 171.7" fill="none" stroke="#1c1c1c" stroke-width="1.46"/>
<path d="M238.3 167.9 L216.8 173.0" fill="none" stroke="#1c1c1c" stroke-width="1.10"/>
<path d="M210.3 171.7 L205.8 173.0 L200.0 170.4 L184.0 174.3 L186.0 176.2 L191.7 177.5 L192.3 186.5" fill="none" stroke="#1c1c1c" stroke-width="1.34"/>
<path d="M191.7 177.5 L204.0 180.7 L224.5 184.0 L242.5 178.2 L241.8 176.7 L218.7 174.3 L210.3 171.7" fill="none" stroke="#1c1c1c" stroke-width="1.34"/>
<path d="M212.3 179.4 L222.0 180.6" fill="none" stroke="#1c1c1c" stroke-width="1.71"/>
<path d="M202.6 181.3 L202.6 186.0" fill="none" stroke="#1c1c1c" stroke-width="1.10"/>
<path d="M206.5 182.0 L206.5 186.5" fill="none" stroke="#1c1c1c" stroke-width="1.10"/>
<ellipse cx="205.8" cy="173.2" rx="0.6" ry="0.6" fill="none" stroke="#1c1c1c" stroke-width="0.98"/>
<path d="M190.9 274.1 L188.6 193.6 L190.4 192.3 L190.4 188.4 L198.0 187.8 L207.0 188.2 L208.4 189.2 L216.0 190.0 L215.3 240.5 L221.8 245.9 L223.6 274.1 L217.3 276.8 L216.4 283.2 L212.7 285.0 L190.9 274.1" fill="none" stroke="#1c1c1c" stroke-width="1.34"/>
<path d="M219.0 245.0 L219.4 276.0" fill="none" stroke="#1c1c1c" stroke-width="1.10"/>
<path d="M183.6 268.6 L185.7 270.5 L185.5 309.5 L192.7 314.1 L198.2 311.4 L197.5 278.0" fill="none" stroke="#1c1c1c" stroke-width="1.34"/>
<path d="M193.6 282.5 L193.8 306.0" fill="none" stroke="#1c1c1c" stroke-width="1.10"/>
<ellipse cx="188.3" cy="277.5" rx="0.9" ry="1.3" fill="none" stroke="#1c1c1c" stroke-width="0.98"/>
<path d="M189.5 302.0 L189.8 306.5 L188.6 305.2" fill="none" stroke="#1c1c1c" stroke-width="0.98"/>
<path d="M189.8 306.5 L191.0 305.2" fill="none" stroke="#1c1c1c" stroke-width="0.98"/>
<path d="M210.5 272.0 L213.0 272.0" fill="none" stroke="#1c1c1c" stroke-width="1.71"/>
<path d="M211.7 272.0 L211.8 277.0" fill="none" stroke="#1c1c1c" stroke-width="1.22"/>
<path d="M195.0 228.0 L195.5 228.5" fill="none" stroke="#1c1c1c" stroke-width="1.59"/>
<path d="M195.5 255.0 L196.0 255.5" fill="none" stroke="#1c1c1c" stroke-width="1.46"/>
<path d="M261.0 178.0 L261.3 178.5" fill="none" stroke="#1c1c1c" stroke-width="1.22"/>
<path d="M260.0 222.0 L260.3 222.5" fill="none" stroke="#1c1c1c" stroke-width="1.22"/>
<path d="M198.2 305.0 L237.3 292.3" fill="none" stroke="#1c1c1c" stroke-width="1.22"/>
<path d="M241.5 243.0 L263.0 250.6 L284.4 258.2 L305.9 265.9 L327.4 273.5 L348.8 281.1 L370.3 288.8 L391.7 296.4 L413.2 304.0" fill="none" stroke="#1c1c1c" stroke-width="1.04"/>
<path d="M241.5 246.0 L263.0 253.6 L284.4 261.2 L305.9 268.9 L327.4 276.5 L348.8 284.1 L370.3 291.8 L391.7 299.4 L413.2 307.0" fill="none" stroke="#1c1c1c" stroke-width="1.04"/>
<path d="M241.5 259.0 L263.0 267.1 L284.4 275.2 L305.9 283.3 L327.4 291.6 L348.8 299.8 L370.3 308.1 L391.7 316.5 L413.2 324.9" fill="none" stroke="#1c1c1c" stroke-width="1.04"/>
<path d="M241.5 262.0 L263.0 270.1 L284.4 278.2 L305.9 286.3 L327.4 294.6 L348.8 302.8 L370.3 311.1 L391.7 319.5 L413.2 327.9" fill="none" stroke="#1c1c1c" stroke-width="1.04"/>
<path d="M241.5 275.0 L263.0 282.9 L284.4 290.9 L305.9 299.1 L327.4 307.3 L348.8 315.6 L370.3 324.0 L391.7 332.6 L413.2 341.2" fill="none" stroke="#1c1c1c" stroke-width="1.04"/>
<path d="M241.5 278.0 L263.0 285.9 L284.4 293.9 L305.9 302.1 L327.4 310.3 L348.8 318.6 L370.3 327.0 L391.7 335.6 L413.2 344.2" fill="none" stroke="#1c1c1c" stroke-width="1.04"/>
<path d="M241.5 288.8 L263.0 297.2 L284.4 305.8 L305.9 314.5 L327.4 323.4 L348.8 332.4 L370.3 341.5 L391.7 350.8 L413.2 360.3" fill="none" stroke="#1c1c1c" stroke-width="1.04"/>
<path d="M241.5 291.8 L263.0 300.2 L284.4 308.8 L305.9 317.5 L327.4 326.4 L348.8 335.4 L370.3 344.5 L391.7 353.8 L413.2 363.3" fill="none" stroke="#1c1c1c" stroke-width="1.04"/>
<path d="M241.5 302.5 L263.0 311.0 L284.4 319.6 L305.9 328.5 L327.4 337.6 L348.8 346.8 L370.3 356.3 L391.7 365.9 L413.2 375.8" fill="none" stroke="#1c1c1c" stroke-width="1.04"/>
<path d="M241.5 305.5 L263.0 314.0 L284.4 322.6 L305.9 331.5 L327.4 340.6 L348.8 349.8 L370.3 359.3 L391.7 368.9 L413.2 378.8" fill="none" stroke="#1c1c1c" stroke-width="1.04"/>
<rect x="239.7" y="240.8" width="3.6" height="65.0" fill="#fff" stroke="none"/>
<path d="M239.7 240.5 L239.7 305.2" fill="none" stroke="#1c1c1c" stroke-width="1.04"/>
<path d="M243.3 241.2 L243.3 306.2" fill="none" stroke="#1c1c1c" stroke-width="1.04"/>
<path d="M239.7 240.5 L240.9 239.6 L242.5 240.0 L243.3 241.2" fill="none" stroke="#1c1c1c" stroke-width="0.98"/>
<rect x="278.8" y="255.2" width="3.6" height="66.1" fill="#fff" stroke="none"/>
<path d="M278.8 254.9 L278.8 320.7" fill="none" stroke="#1c1c1c" stroke-width="1.04"/>
<path d="M282.4 255.6 L282.4 321.7" fill="none" stroke="#1c1c1c" stroke-width="1.04"/>
<path d="M278.8 254.9 L280.0 254.0 L281.6 254.4 L282.4 255.6" fill="none" stroke="#1c1c1c" stroke-width="0.98"/>
<path d="M278.8 320.7 L282.4 321.7" fill="none" stroke="#1c1c1c" stroke-width="0.98"/>
<rect x="319.8" y="270.0" width="3.6" height="68.3" fill="#fff" stroke="none"/>
<path d="M319.8 269.7 L319.8 337.7" fill="none" stroke="#1c1c1c" stroke-width="1.04"/>
<path d="M323.4 270.4 L323.4 338.7" fill="none" stroke="#1c1c1c" stroke-width="1.04"/>
<path d="M319.8 269.7 L321.0 268.8 L322.6 269.2 L323.4 270.4" fill="none" stroke="#1c1c1c" stroke-width="0.98"/>
<path d="M319.8 337.7 L323.4 338.7" fill="none" stroke="#1c1c1c" stroke-width="0.98"/>
<rect x="364.0" y="285.5" width="3.6" height="72.8" fill="#fff" stroke="none"/>
<path d="M364.0 285.2 L364.0 357.7" fill="none" stroke="#1c1c1c" stroke-width="1.04"/>
<path d="M367.6 285.9 L367.6 358.7" fill="none" stroke="#1c1c1c" stroke-width="1.04"/>
<path d="M364.0 285.2 L365.2 284.3 L366.8 284.7 L367.6 285.9" fill="none" stroke="#1c1c1c" stroke-width="0.98"/>
<path d="M364.0 357.7 L367.6 358.7" fill="none" stroke="#1c1c1c" stroke-width="0.98"/>
<rect x="411.4" y="303.7" width="3.6" height="75.3" fill="#fff" stroke="none"/>
<path d="M411.4 303.4 L411.4 378.4" fill="none" stroke="#1c1c1c" stroke-width="1.04"/>
<path d="M415.0 304.1 L415.0 379.4" fill="none" stroke="#1c1c1c" stroke-width="1.04"/>
<path d="M411.4 303.4 L412.6 302.5 L414.2 302.9 L415.0 304.1" fill="none" stroke="#1c1c1c" stroke-width="0.98"/>
<path d="M411.4 378.4 L415.0 379.4" fill="none" stroke="#1c1c1c" stroke-width="0.98"/>
<path d="M239.6 262.1l-2 -0.8c-2.6 -1.2 -2.8 -3.6 -1.2 -6l2 -2.8l4.5 -0.6" fill="none" stroke="#1c1c1c" stroke-width="1.0"/>
<path d="M239.6 259.3l-1.6 -0.8c-1.4 -1 -1.2 -2.4 -0.4 -3.8" fill="none" stroke="#1c1c1c" stroke-width="0.8"/>
<path d="M243.4 252.3c0 -2.6 3.2 -2 1.6 0.6l-1.4 0.6" fill="none" stroke="#1c1c1c" stroke-width="0.9"/>
<path d="M239.6 291.9l-2 -0.8c-2.6 -1.2 -2.8 -3.6 -1.2 -6l2 -2.8l4.5 -0.6" fill="none" stroke="#1c1c1c" stroke-width="1.0"/>
<path d="M239.6 289.1l-1.6 -0.8c-1.4 -1 -1.2 -2.4 -0.4 -3.8" fill="none" stroke="#1c1c1c" stroke-width="0.8"/>
<path d="M243.4 282.1c0 -2.6 3.2 -2 1.6 0.6l-1.4 0.6" fill="none" stroke="#1c1c1c" stroke-width="0.9"/>
<path d="M415.0 325.4l13.5 -1.3c3.2 -0.4 3.2 -3 6.4 -3.4l3.4 0.7" fill="none" stroke="#1c1c1c" stroke-width="1.0"/>
<path d="M415.0 328.0l13.5 -1.2c3.4 -0.4 3.6 -2.8 6.2 -3.2" fill="none" stroke="#1c1c1c" stroke-width="0.9"/>
<path d="M415.0 360.8l13.5 -1.3c3.2 -0.4 3.2 -3 6.4 -3.4l3.4 0.7" fill="none" stroke="#1c1c1c" stroke-width="1.0"/>
<path d="M415.0 363.4l13.5 -1.2c3.4 -0.4 3.6 -2.8 6.2 -3.2" fill="none" stroke="#1c1c1c" stroke-width="0.9"/>
<path d="M246.0 308.2 L232.9 320.2 L239.3 324.9 L239.3 334.3 L254.8 338.4 L255.2 341.6" fill="none" stroke="#1c1c1c" stroke-width="1.34"/>
<path d="M255.0 338.2 L328.6 370.0 L392.3 395.5 L393.0 401.8 L409.5 408.2 L410.5 401.0 L416.0 402.7 L434.0 388.0 L418.6 369.0" fill="none" stroke="#1c1c1c" stroke-width="1.34"/>
<path d="M258.0 309.0 L270.0 308.5 L278.0 312.0" fill="none" stroke="#1c1c1c" stroke-width="0.98"/>
<path d="M325.0 330.0 L363.0 345.5" fill="none" stroke="#1c1c1c" stroke-width="1.95"/>
<path d="M369.5 348.0 L409.5 364.5" fill="none" stroke="#1c1c1c" stroke-width="1.95"/>
<path d="M284.0 313.5 L318.0 327.5" fill="none" stroke="#1c1c1c" stroke-width="1.46"/>
<path d="M245.7 325.3 L280.0 340.3" fill="none" stroke="#1c1c1c" stroke-width="0.98" stroke-dasharray="8 3 2 3" opacity="0.75"/>
<path d="M300.0 349.0 L330.0 361.0" fill="none" stroke="#1c1c1c" stroke-width="0.85" stroke-dasharray="8 3 2 3" opacity="0.6"/>
<ellipse cx="251.5" cy="335.6" rx="0.8" ry="1.0" fill="none" stroke="#1c1c1c" stroke-width="0.98"/>
<ellipse cx="397.5" cy="398.5" rx="0.9" ry="0.9" fill="none" stroke="#1c1c1c" stroke-width="0.98"/>
<path d="M191.4 381.0 L191.4 343.6 L188.8 340.5 L188.6 337.3 L190.5 335.0 L193.2 334.5 L285.0 376.4 L381.4 420.0 L380.7 465.5 L378.5 468.5 L376.0 469.0" fill="none" stroke="#1c1c1c" stroke-width="1.46"/>
<path d="M190.5 343.6 L285.0 386.4 L375.9 424.5 L378.5 423.5 L381.4 420.0" fill="none" stroke="#1c1c1c" stroke-width="2.07"/>
<path d="M377.7 425.0 L377.2 467.0" fill="none" stroke="#1c1c1c" stroke-width="1.10"/>
<path d="M191.4 381.0 L189.5 382.7 L189.3 386.0 L190.5 388.2 L258.6 420.0 L285.0 432.3 L374.0 469.3 L376.0 469.0" fill="none" stroke="#1c1c1c" stroke-width="1.46"/>
<path d="M191.4 381.0 L276.8 420.0 L376.0 464.5" fill="none" stroke="#1c1c1c" stroke-width="1.34"/>
<path d="M205.7 355.9 L249.2 375.4" fill="none" stroke="#1c1c1c" stroke-width="0.73" stroke-dasharray="2.4 2.7" opacity="0.46"/>
<path d="M257.1 378.9 L276.5 387.6" fill="none" stroke="#1c1c1c" stroke-width="0.73" stroke-dasharray="2.3 3.1" opacity="0.63"/>
<path d="M290.2 393.7 L334.8 413.8" fill="none" stroke="#1c1c1c" stroke-width="0.73" stroke-dasharray="2.0 2.1" opacity="0.62"/>
<path d="M341.2 416.6 L362.4 426.1" fill="none" stroke="#1c1c1c" stroke-width="0.73" stroke-dasharray="1.1 3.2" opacity="0.52"/>
<path d="M214.4 363.2 L257.0 382.3" fill="none" stroke="#1c1c1c" stroke-width="0.73" stroke-dasharray="2.1 1.8" opacity="0.62"/>
<path d="M267.4 387.0 L309.2 405.7" fill="none" stroke="#1c1c1c" stroke-width="0.73" stroke-dasharray="1.8 2.4" opacity="0.68"/>
<path d="M313.3 407.5 L350.5 424.2" fill="none" stroke="#1c1c1c" stroke-width="0.73" stroke-dasharray="1.0 2.1" opacity="0.39"/>
<path d="M364.8 430.6 L371.2 433.4" fill="none" stroke="#1c1c1c" stroke-width="0.73" stroke-dasharray="2.0 2.0" opacity="0.61"/>
<path d="M204.4 362.1 L239.6 377.9" fill="none" stroke="#1c1c1c" stroke-width="0.73" stroke-dasharray="1.2 2.8" opacity="0.45"/>
<path d="M247.4 381.4 L289.6 400.3" fill="none" stroke="#1c1c1c" stroke-width="0.73" stroke-dasharray="2.4 3.5" opacity="0.50"/>
<path d="M300.1 405.0 L338.4 422.1" fill="none" stroke="#1c1c1c" stroke-width="0.73" stroke-dasharray="2.1 2.4" opacity="0.65"/>
<path d="M346.6 425.8 L367.1 435.0" fill="none" stroke="#1c1c1c" stroke-width="0.73" stroke-dasharray="1.6 1.7" opacity="0.61"/>
<path d="M214.0 369.8 L258.6 389.8" fill="none" stroke="#1c1c1c" stroke-width="0.73" stroke-dasharray="1.7 3.0" opacity="0.40"/>
<path d="M269.9 394.9 L293.1 405.2" fill="none" stroke="#1c1c1c" stroke-width="0.73" stroke-dasharray="1.2 3.1" opacity="0.36"/>
<path d="M302.3 409.4 L315.3 415.2" fill="none" stroke="#1c1c1c" stroke-width="0.73" stroke-dasharray="2.2 3.3" opacity="0.36"/>
<path d="M324.4 419.3 L350.8 431.1" fill="none" stroke="#1c1c1c" stroke-width="0.73" stroke-dasharray="2.0 3.0" opacity="0.47"/>
<path d="M365.9 437.9 L371.5 440.4" fill="none" stroke="#1c1c1c" stroke-width="0.73" stroke-dasharray="1.0 3.1" opacity="0.39"/>
<path d="M213.0 372.8 L228.7 379.8" fill="none" stroke="#1c1c1c" stroke-width="0.73" stroke-dasharray="2.4 2.4" opacity="0.63"/>
<path d="M235.0 382.6 L276.9 401.4" fill="none" stroke="#1c1c1c" stroke-width="0.73" stroke-dasharray="1.2 3.3" opacity="0.56"/>
<path d="M292.6 408.4 L329.5 425.0" fill="none" stroke="#1c1c1c" stroke-width="0.73" stroke-dasharray="1.9 2.6" opacity="0.65"/>
<path d="M338.3 428.9 L351.8 434.9" fill="none" stroke="#1c1c1c" stroke-width="0.73" stroke-dasharray="2.4 3.1" opacity="0.59"/>
<path d="M364.4 440.6 L368.6 442.5" fill="none" stroke="#1c1c1c" stroke-width="0.73" stroke-dasharray="1.6 3.1" opacity="0.69"/>
<path d="M209.7 374.7 L239.1 387.9" fill="none" stroke="#1c1c1c" stroke-width="0.73" stroke-dasharray="1.5 1.8" opacity="0.40"/>
<path d="M248.3 392.0 L275.5 404.2" fill="none" stroke="#1c1c1c" stroke-width="0.73" stroke-dasharray="1.3 2.2" opacity="0.54"/>
<path d="M288.4 410.0 L319.0 423.7" fill="none" stroke="#1c1c1c" stroke-width="0.73" stroke-dasharray="1.1 3.3" opacity="0.48"/>
<path d="M334.5 430.6 L365.2 444.3" fill="none" stroke="#1c1c1c" stroke-width="0.73" stroke-dasharray="1.0 2.7" opacity="0.69"/>
<path d="M216.7 381.2 L227.7 386.2" fill="none" stroke="#1c1c1c" stroke-width="0.73" stroke-dasharray="1.1 1.7" opacity="0.45"/>
<path d="M238.9 391.2 L268.6 404.5" fill="none" stroke="#1c1c1c" stroke-width="0.73" stroke-dasharray="2.4 2.9" opacity="0.48"/>
<path d="M283.9 411.3 L316.1 425.8" fill="none" stroke="#1c1c1c" stroke-width="0.73" stroke-dasharray="1.7 3.2" opacity="0.58"/>
<path d="M323.8 429.2 L354.9 443.2" fill="none" stroke="#1c1c1c" stroke-width="0.73" stroke-dasharray="1.3 3.4" opacity="0.44"/>
<path d="M211.4 382.3 L240.8 395.4" fill="none" stroke="#1c1c1c" stroke-width="0.73" stroke-dasharray="1.1 2.5" opacity="0.39"/>
<path d="M254.6 401.6 L288.1 416.6" fill="none" stroke="#1c1c1c" stroke-width="0.73" stroke-dasharray="2.0 3.4" opacity="0.70"/>
<path d="M299.9 421.9 L334.8 437.6" fill="none" stroke="#1c1c1c" stroke-width="0.73" stroke-dasharray="0.8 1.6" opacity="0.50"/>
<path d="M350.4 444.6 L371.4 453.9" fill="none" stroke="#1c1c1c" stroke-width="0.73" stroke-dasharray="1.8 1.5" opacity="0.50"/>
<path d="M220.3 389.6 L230.7 394.3" fill="none" stroke="#1c1c1c" stroke-width="0.73" stroke-dasharray="1.1 1.9" opacity="0.64"/>
<path d="M235.0 396.3 L277.7 415.3" fill="none" stroke="#1c1c1c" stroke-width="0.73" stroke-dasharray="1.3 3.3" opacity="0.53"/>
<path d="M284.9 418.6 L328.7 438.2" fill="none" stroke="#1c1c1c" stroke-width="0.73" stroke-dasharray="1.5 2.9" opacity="0.37"/>
<path d="M342.5 444.4 L363.8 453.9" fill="none" stroke="#1c1c1c" stroke-width="0.73" stroke-dasharray="1.0 3.0" opacity="0.44"/>
<path d="M218.6 392.3 L262.0 411.7" fill="none" stroke="#1c1c1c" stroke-width="0.73" stroke-dasharray="2.5 3.5" opacity="0.57"/>
<path d="M273.5 416.9 L289.1 423.9" fill="none" stroke="#1c1c1c" stroke-width="0.73" stroke-dasharray="2.0 2.6" opacity="0.48"/>
<path d="M303.8 430.5 L322.7 438.9" fill="none" stroke="#1c1c1c" stroke-width="0.73" stroke-dasharray="1.0 1.8" opacity="0.40"/>
<path d="M333.4 443.7 L365.4 458.0" fill="none" stroke="#1c1c1c" stroke-width="0.73" stroke-dasharray="1.1 2.5" opacity="0.55"/>
<path d="M236.0 405.5 L370.0 466.0" fill="none" stroke="#1c1c1c" stroke-width="0.85" stroke-dasharray="3 2 6 2" opacity="0.7"/>
<path d="M378.6 428.0 L379.6 428.6" fill="none" stroke="#1c1c1c" stroke-width="0.73" opacity="0.7"/>
<path d="M378.6 431.2 L379.6 431.8" fill="none" stroke="#1c1c1c" stroke-width="0.73" opacity="0.7"/>
<path d="M378.6 434.4 L379.6 435.0" fill="none" stroke="#1c1c1c" stroke-width="0.73" opacity="0.7"/>
<path d="M378.6 437.6 L379.6 438.2" fill="none" stroke="#1c1c1c" stroke-width="0.73" opacity="0.7"/>
<path d="M378.6 440.8 L379.6 441.4" fill="none" stroke="#1c1c1c" stroke-width="0.73" opacity="0.7"/>
<path d="M378.6 444.0 L379.6 444.6" fill="none" stroke="#1c1c1c" stroke-width="0.73" opacity="0.7"/>
<path d="M378.6 447.2 L379.6 447.8" fill="none" stroke="#1c1c1c" stroke-width="0.73" opacity="0.7"/>
<path d="M378.6 450.4 L379.6 451.0" fill="none" stroke="#1c1c1c" stroke-width="0.73" opacity="0.7"/>
<path d="M378.6 453.6 L379.6 454.2" fill="none" stroke="#1c1c1c" stroke-width="0.73" opacity="0.7"/>
<path d="M378.6 456.8 L379.6 457.4" fill="none" stroke="#1c1c1c" stroke-width="0.73" opacity="0.7"/>
<path d="M378.6 460.0 L379.6 460.6" fill="none" stroke="#1c1c1c" stroke-width="0.73" opacity="0.7"/>
<path d="M378.6 463.2 L379.6 463.8" fill="none" stroke="#1c1c1c" stroke-width="0.73" opacity="0.7"/>
<path d="M126.8 285.9 L128.9 349.8 L134.0 353.5 L144.9 354.4 L153.6 352.0 L156.3 348.4 L154.8 282.3" fill="none" stroke="#1c1c1c" stroke-width="1.46"/>
<path d="M142.2 288.5 L144.9 354.4" fill="none" stroke="#1c1c1c" stroke-width="1.34"/>
<path d="M126.8 285.9 L130.9 280.9 L138.2 277.3 L144.1 276.8 L146.8 279.5 L146.8 282.7 L149.5 281.8 L150.9 280.0 L154.8 282.3" fill="none" stroke="#1c1c1c" stroke-width="1.34"/>
<path d="M126.8 285.9 L134.5 289.1 L141.4 287.4 L146.8 283.2 L154.8 282.3" fill="none" stroke="#1c1c1c" stroke-width="1.34"/>
<path d="M130.0 285.0 L131.8 282.3 L138.6 278.8 L143.2 278.6 L145.5 280.9 L145.0 284.5 L140.9 287.3" fill="none" stroke="#1c1c1c" stroke-width="1.10"/>
<path d="M130.0 285.0 L134.5 288.6" fill="none" stroke="#1c1c1c" stroke-width="0.98"/>
<path d="M135.5 283.0 L138.0 281.8 L139.5 283.0" fill="none" stroke="#1c1c1c" stroke-width="1.10"/>
<path d="M138.0 286.2 L140.0 285.4" fill="none" stroke="#1c1c1c" stroke-width="1.46"/>
<path d="M129.6 293.8 L131.2 341.0" fill="none" stroke="#1c1c1c" stroke-width="0.98"/>
<path d="M131.8 293.8 L133.2 343.5" fill="none" stroke="#1c1c1c" stroke-width="0.98"/>
<path d="M135.5 293.8 L136.6 344.0" fill="none" stroke="#1c1c1c" stroke-width="0.98"/>
<path d="M137.0 293.8 L138.0 341.5" fill="none" stroke="#1c1c1c" stroke-width="0.98"/>
<path d="M133.2 343.5 L134.2 345.0 L136.6 344.0" fill="none" stroke="#1c1c1c" stroke-width="0.98"/>
<path d="M157.3 328.8 L157.6 330.2" fill="none" stroke="#1c1c1c" stroke-width="1.22"/>
<path d="M438.6 404.5 L438.1 469.8 L449.7 475.6 L459.2 472.7 L468.6 467.6 L471.6 398.2" fill="none" stroke="#1c1c1c" stroke-width="1.46"/>
<path d="M450.3 408.0 L451.2 475.0" fill="none" stroke="#1c1c1c" stroke-width="1.59"/>
<path d="M459.6 405.8 L459.2 472.7" fill="none" stroke="#1c1c1c" stroke-width="1.10"/>
<path d="M438.6 404.5 L442.7 397.7 L452.3 391.8 L456.8 391.8 L460.0 394.5 L460.0 396.8 L465.5 399.5 L465.0 397.3 L467.7 396.4 L471.6 398.2" fill="none" stroke="#1c1c1c" stroke-width="1.34"/>
<path d="M438.6 404.5 L449.5 408.2 L460.0 405.5 L465.5 400.0 L471.6 398.2" fill="none" stroke="#1c1c1c" stroke-width="1.34"/>
<path d="M444.5 399.5 L451.4 394.5 L456.4 394.5 L459.0 396.4 L458.6 399.5 L452.7 402.7 L444.5 399.5" fill="none" stroke="#1c1c1c" stroke-width="1.10"/>
<path d="M450.5 398.5 L452.5 397.0 L454.0 398.3" fill="none" stroke="#1c1c1c" stroke-width="1.10"/>
<path d="M456.3 399.3 L457.3 399.8" fill="none" stroke="#1c1c1c" stroke-width="1.46"/>
<path d="M452.7 402.7 L454.0 404.5 L459.5 403.5" fill="none" stroke="#1c1c1c" stroke-width="0.98"/>
<path d="M442.5 413.8 L442.7 460.4" fill="none" stroke="#1c1c1c" stroke-width="0.98"/>
<path d="M444.6 413.8 L444.8 460.4" fill="none" stroke="#1c1c1c" stroke-width="0.98"/>
<path d="M446.8 413.8 L447.0 463.3" fill="none" stroke="#1c1c1c" stroke-width="0.98"/>
<path d="M449.0 413.8 L449.2 463.3" fill="none" stroke="#1c1c1c" stroke-width="0.98"/>
<path d="M442.7 460.4 L443.5 462.0 L444.8 460.4" fill="none" stroke="#1c1c1c" stroke-width="0.98"/>
<path d="M442.5 413.8 L443.5 412.6 L444.6 413.8" fill="none" stroke="#1c1c1c" stroke-width="0.98"/>
<path d="M133.0 236.8v3.8c0 1.8 3 3.2 7.2 3.2s7.2 -1.4 7.2 -3.2v-3.8" fill="#fff" stroke="#1c1c1c" stroke-width="1.35"/>
<path d="M133.0 237.0c0 1.5 3 2.7 7.2 2.7s7.2 -1.2 7.2 -2.7" fill="none" stroke="#1c1c1c" stroke-width="1.0"/>
<ellipse cx="140.2" cy="229.6" rx="7.8" ry="7.8" fill="#fff" stroke="#1c1c1c" stroke-width="1.28"/>
<path d="M138.9 243.8 L138.9 248.6 L141.7 248.6 L141.7 243.8" fill="none" stroke="#1c1c1c" stroke-width="1.34"/>
<path d="M139.3 246.2 L141.4 246.2" fill="none" stroke="#1c1c1c" stroke-width="0.73"/>
<path d="M126.2 260.8 L140.5 256.2 L155.5 262.3 L155.1 265.4 L142.4 269.7 L133.1 270.0 L123.5 265.8 Z" fill="none" stroke="#1c1c1c" stroke-width="1.46"/>
<path d="M128.5 262.3 L135.4 265.4" fill="none" stroke="#1c1c1c" stroke-width="0.73" stroke-dasharray="4 2"/>
<path d="M137.0 266.6 L151.6 263.5" fill="none" stroke="#1c1c1c" stroke-width="0.73" stroke-dasharray="4 2 1 2"/>
<ellipse cx="140.8" cy="261.6" rx="1.4" ry="0.9" fill="none" stroke="#1c1c1c" stroke-width="0.98"/>
<path d="M141.2 267.5 L141.2 269.5" fill="none" stroke="#1c1c1c" stroke-width="1.10"/>
<path d="M120.4 271.8 L122.0 270.3 L124.3 270.0 L128.9 270.8 L132.4 274.7 L131.6 275.9 L128.1 277.0 L124.0 275.3 L120.8 273.6 Z" fill="none" stroke="#1c1c1c" stroke-width="1.22"/>
<path d="M122.3 272.2 L124.5 271.6 L125.6 273.0 L123.5 274.0 Z" fill="none" stroke="#1c1c1c" stroke-width="0.98"/>
<path d="M127.0 273.3 L129.3 274.8" fill="none" stroke="#1c1c1c" stroke-width="1.10"/>
<path d="M115.3 360.0 L117.5 357.3 L121.0 356.6 L122.5 355.3 L126.5 355.6 L128.0 357.6 L126.3 360.6 L123.0 361.3 L121.5 363.0 L117.8 363.2 L115.8 362.0 Z" fill="none" stroke="#1c1c1c" stroke-width="1.22"/>
<path d="M118.5 359.8 L121.5 358.8 L122.0 360.6 L119.2 361.5 Z" fill="none" stroke="#1c1c1c" stroke-width="0.98"/>
<path d="M123.5 357.5 L125.5 357.2" fill="none" stroke="#1c1c1c" stroke-width="1.10"/>
<ellipse cx="143.8" cy="359.6" rx="3.6" ry="3.2" fill="none" stroke="#1c1c1c" stroke-width="1.46"/>
<ellipse cx="144.0" cy="359.3" rx="1.7" ry="1.5" fill="none" stroke="#1c1c1c" stroke-width="1.10"/>
<ellipse cx="154.0" cy="359.2" rx="1.5" ry="1.5" fill="none" stroke="#1c1c1c" stroke-width="1.22"/>
<ellipse cx="154.0" cy="363.3" rx="2.7" ry="2.1" fill="none" stroke="#1c1c1c" stroke-width="1.34"/>
<path d="M142.6 366.5 L142.6 381.2 L146.4 381.5 L146.4 366.5 L144.5 365.4 Z" fill="none" stroke="#1c1c1c" stroke-width="1.59"/>
<path d="M142.8 367.5 L146.2 368.2" fill="none" stroke="#1c1c1c" stroke-width="0.85"/>
<path d="M142.8 369.5 L146.2 370.2" fill="none" stroke="#1c1c1c" stroke-width="0.85"/>
<path d="M142.8 371.5 L146.2 372.2" fill="none" stroke="#1c1c1c" stroke-width="0.85"/>
<path d="M142.8 373.5 L146.2 374.2" fill="none" stroke="#1c1c1c" stroke-width="0.85"/>
<path d="M142.8 375.5 L146.2 376.2" fill="none" stroke="#1c1c1c" stroke-width="0.85"/>
<path d="M142.8 377.5 L146.2 378.2" fill="none" stroke="#1c1c1c" stroke-width="0.85"/>
<path d="M142.8 379.5 L146.2 380.2" fill="none" stroke="#1c1c1c" stroke-width="0.85"/>
<ellipse cx="145.2" cy="388.7" rx="6.4" ry="3.2" fill="none" stroke="#1c1c1c" stroke-width="1.22"/>
<path d="M138.8 389.2C136 390.2 135 392 135 394C135 396.8 139.5 398.8 144.7 398.8C150 398.8 154.4 396.8 154.4 394C154.4 392 153.5 390.2 151.6 389.2" fill="none" stroke="#1c1c1c" stroke-width="1.4"/>
<path d="M135.3 393.2C137.5 396.3 152 396.3 154.1 393.2" fill="none" stroke="#1c1c1c" stroke-width="0.9"/>
<ellipse cx="145.0" cy="388.8" rx="1.4" ry="0.8" fill="#1c1c1c" stroke="#1c1c1c" stroke-width="0.98"/>
<path d="M137.2 395.6 L137.2 397.6" fill="none" stroke="#1c1c1c" stroke-width="0.61"/>
<path d="M139.3 395.6 L139.3 397.6" fill="none" stroke="#1c1c1c" stroke-width="0.61"/>
<path d="M141.4 395.6 L141.4 397.6" fill="none" stroke="#1c1c1c" stroke-width="0.61"/>
<path d="M143.5 395.6 L143.5 397.6" fill="none" stroke="#1c1c1c" stroke-width="0.61"/>
<path d="M145.6 395.6 L145.6 397.6" fill="none" stroke="#1c1c1c" stroke-width="0.61"/>
<path d="M147.7 395.6 L147.7 397.6" fill="none" stroke="#1c1c1c" stroke-width="0.61"/>
<path d="M149.8 395.6 L149.8 397.6" fill="none" stroke="#1c1c1c" stroke-width="0.61"/>
<path d="M151.9 395.6 L151.9 397.6" fill="none" stroke="#1c1c1c" stroke-width="0.61"/>
<path d="M162.6 307.7 L164.4 305.5 L169.9 307.4 L170.6 308.8 L169.9 319.0 L168.1 319.3 L162.6 316.8 Z" fill="none" stroke="#1c1c1c" stroke-width="1.34"/>
<path d="M168.1 308.4 L168.1 319.3" fill="none" stroke="#1c1c1c" stroke-width="1.10"/>
<path d="M169.2 309.0 L169.0 318.6" fill="none" stroke="#777" stroke-width="1.22"/>
<path d="M163.2 308.0 L167.6 309.0" fill="none" stroke="#1c1c1c" stroke-width="0.98"/>
<path d="M164.3 312.0 L165.2 314.5 L164.0 315.0" fill="none" stroke="#1c1c1c" stroke-width="0.98"/>
<ellipse cx="178.6" cy="308.6" rx="2.3" ry="2.6" fill="none" stroke="#1c1c1c" stroke-width="1.34"/>
<ellipse cx="176.5" cy="309.5" rx="1.3" ry="1.6" fill="none" stroke="#1c1c1c" stroke-width="1.10"/>
<path d="M459.0 316.0 L459.0 260.5 L462.5 258.8 L468.9 263.9 L474.0 265.2 L476.5 268.4 L476.5 270.9 L474.6 272.2 L474.6 277.3 L478.5 279.2 L477.2 325.0 L475.6 355.0 L474.0 369.5 L470.2 370.8 L468.3 368.9" fill="none" stroke="#1c1c1c" stroke-width="1.22"/>
<path d="M475.6 280.0 L474.8 325.0" fill="none" stroke="#1c1c1c" stroke-width="0.98"/>
<path d="M474.8 325.0 L472.8 366.0" fill="none" stroke="#1c1c1c" stroke-width="0.98"/>
<path d="M471.5 306.0 L471.7 307.0" fill="none" stroke="#1c1c1c" stroke-width="1.46"/>
<path d="M474.8 257.0 L489.3 251.8 L496.2 255.8 L503.2 262.2 L525.7 268.0 L513.6 274.3 L503.8 272.6 L488.1 267.4 Z" fill="none" stroke="#1c1c1c" stroke-width="1.28"/>
<path d="M480.0 258.7 L487.0 263.3 L489.6 262.8" fill="none" stroke="#1c1c1c" stroke-width="1.22"/>
<path d="M489.9 268.0 L511.3 270.9" fill="none" stroke="#1c1c1c" stroke-width="0.98" stroke-dasharray="7 2 2 2"/>
<path d="M506.1 262.2 L506.1 242.5 L513.0 243.7" fill="none" stroke="#1c1c1c" stroke-width="1.34"/>
<path d="M514.7 245.4 L546.0 254.1" fill="none" stroke="#1c1c1c" stroke-width="1.40"/>
<path d="M513.0 243.7 L512.7 262.0" fill="none" stroke="#1c1c1c" stroke-width="1.10"/>
<path d="M514.7 245.4 L516.5 248.3 L541.4 254.7 L514.7 264.5" fill="none" stroke="#1c1c1c" stroke-width="1.22"/>
<path d="M542.5 256.4 L521.7 265.2" fill="none" stroke="#1c1c1c" stroke-width="1.10"/>
<path d="M541.4 254.7 L546.0 254.1" fill="none" stroke="#1c1c1c" stroke-width="1.10"/>
<path d="M513.0 243.7 L514.7 245.4" fill="none" stroke="#1c1c1c" stroke-width="1.10"/>
<path d="M511.9 245.0 L511.8 288.0" fill="none" stroke="#1c1c1c" stroke-width="0.98" stroke-dasharray="9 2 2 2"/>
<ellipse cx="511.8" cy="291.4" rx="1.4" ry="1.2" fill="#1c1c1c" stroke="#1c1c1c" stroke-width="0.98"/>
<path d="M546.2 254.0 L543.8 320.0 L541.0 405.5 L490.0 436.8 L477.5 433.2" fill="none" stroke="#1c1c1c" stroke-width="1.40"/>
<path d="M487.4 267.4 L484.5 373.2 L477.3 380.5 L491.0 386.8 L498.2 379.5 L499.0 300.0" fill="none" stroke="#1c1c1c" stroke-width="1.22"/>
<path d="M503.8 272.6 L500.5 378.0" fill="none" stroke="#1c1c1c" stroke-width="1.22"/>
<path d="M489.0 373.0 L489.2 286.8 L500.0 288.5" fill="none" stroke="#1c1c1c" stroke-width="1.10"/>
<path d="M492.7 372.0 L492.9 290.0 L496.4 290.8 L496.0 372.0" fill="none" stroke="#1c1c1c" stroke-width="0.98"/>
<path d="M484.5 373.2 L498.2 379.5" fill="none" stroke="#1c1c1c" stroke-width="0.98"/>
<path d="M477.3 380.5 L478.0 384.5 L477.5 433.2" fill="none" stroke="#1c1c1c" stroke-width="1.34"/>
<path d="M491.0 386.8 L490.2 391.5 L489.5 436.8" fill="none" stroke="#1c1c1c" stroke-width="1.22"/>
<path d="M478.5 384.8 L482.0 386.2" fill="none" stroke="#1c1c1c" stroke-width="0.98"/>
<path d="M483.5 387v4.5c-1.5 1.8 -3 0.5 -2.6 -1.4" fill="none" stroke="#1c1c1c" stroke-width="1.0"/>
<ellipse cx="514.6" cy="390.5" rx="6.8" ry="13.6" fill="none" stroke="#1c1c1c" stroke-width="1.34" transform="rotate(14.0 514.6 390.5)"/>
<ellipse cx="516.0" cy="393.0" rx="4.2" ry="9.0" fill="none" stroke="#1c1c1c" stroke-width="1.22" transform="rotate(12.0 516.0 393.0)"/>
<path d="M517 379c3.5 0.5 6.5 5 6 11" fill="none" stroke="#1c1c1c" stroke-width="0.8"/>
<ellipse cx="514.5" cy="372.3" rx="1.2" ry="1.7" fill="none" stroke="#1c1c1c" stroke-width="0.98" transform="rotate(15.0 514.5 372.3)"/>
<path d="M499.0 419.5 L529.0 401.4 L530.0 406.8 L500.0 425.0 Z" fill="none" stroke="#1c1c1c" stroke-width="1.22"/>
<text x="0" y="0" font-size="3.6" font-weight="bold" transform="translate(502.5 421.6) rotate(-31.2)" textLength="27" lengthAdjust="spacingAndGlyphs">FLAME ADJUST</text>
<path d="M472.8 427.0 L476.5 426.0 L478.6 427.5 L478.6 436.0 L476.0 434.0 L472.8 434.5 Z" fill="none" stroke="#1c1c1c" stroke-width="1.22"/>
<path d="M474.0 429.5 L475.8 429.0 L475.8 432.0 L474.0 432.3 Z" fill="none" stroke="#1c1c1c" stroke-width="0.98"/>
<path d="M481.0 429.0 L482.7 422.5 L484.5 428.5" fill="none" stroke="#1c1c1c" stroke-width="1.10"/>
<ellipse cx="503.5" cy="440.8" rx="2.4" ry="2.6" fill="none" stroke="#1c1c1c" stroke-width="1.34"/>
<ellipse cx="501.2" cy="442.3" rx="1.4" ry="1.4" fill="none" stroke="#1c1c1c" stroke-width="1.10"/>
<path d="M492.7 438.6 L492.7 447.7" fill="none" stroke="#1c1c1c" stroke-width="0.85" stroke-dasharray="3 2"/>
<path d="M493.5 446.8 L499.5 443.3" fill="none" stroke="#1c1c1c" stroke-width="0.85" stroke-dasharray="3 2"/>
<path d="M449.7 331.2v3.8c0 1.8 3 3.2 7.6 3.2s7.6 -1.4 7.6 -3.2v-3.8" fill="#fff" stroke="#1c1c1c" stroke-width="1.35"/>
<path d="M449.7 331.4c0 1.5 3 2.7 7.6 2.7s7.6 -1.2 7.6 -2.7" fill="none" stroke="#1c1c1c" stroke-width="1.0"/>
<ellipse cx="457.3" cy="324.0" rx="7.8" ry="7.8" fill="#fff" stroke="#1c1c1c" stroke-width="1.28"/>
<path d="M456.0 338.2 L456.0 343.0 L458.8 343.0 L458.8 338.2" fill="none" stroke="#1c1c1c" stroke-width="1.34"/>
<path d="M456.4 340.6 L458.5 340.6" fill="none" stroke="#1c1c1c" stroke-width="0.73"/>
<path d="M457.6 347.6 L457.6 351.8" fill="none" stroke="#1c1c1c" stroke-width="1.10"/>
<path d="M438.4 358.7 L450.5 351.7 L472.1 360.0 L470.8 363.2 L450.5 372.1 L437.1 366.4 Z" fill="none" stroke="#1c1c1c" stroke-width="1.46"/>
<path d="M454.0 359.3 L457.0 359.0" fill="none" stroke="#1c1c1c" stroke-width="1.10"/>
<path d="M450.0 370.0 L455.0 366.5 L460.0 366.8" fill="none" stroke="#1c1c1c" stroke-width="0.73" stroke-dasharray="2 1.5"/>
<path d="M450.0 379.0 L452.5 377.3 L457.5 378.2 L461.8 381.5 L460.3 384.8 L455.5 383.6 L450.3 381.5 Z" fill="none" stroke="#1c1c1c" stroke-width="1.10"/>
<path d="M453.0 379.0 L456.0 380.0 L455.7 382.5" fill="none" stroke="#1c1c1c" stroke-width="0.98"/>
<path d="M435.5 482.3 L438.0 478.2 L442.5 475.7 L446.5 476.3 L447.3 479.5 L443.0 482.5 L440.0 484.5 L437.0 484.3 Z" fill="none" stroke="#1c1c1c" stroke-width="1.10"/>
<path d="M439.5 480.8 L442.5 478.3 L444.2 479.5 L441.5 482.0 Z" fill="none" stroke="#1c1c1c" stroke-width="0.98"/>
<ellipse cx="451.0" cy="486.0" rx="3.6" ry="3.4" fill="none" stroke="#1c1c1c" stroke-width="1.34"/>
<ellipse cx="451.0" cy="485.8" rx="1.8" ry="1.6" fill="none" stroke="#1c1c1c" stroke-width="0.98"/>
<path d="M449.5 484.3 L452.5 487.5" fill="none" stroke="#1c1c1c" stroke-width="0.85"/>
<ellipse cx="464.5" cy="475.8" rx="1.4" ry="1.2" fill="none" stroke="#1c1c1c" stroke-width="1.10"/>
<ellipse cx="464.5" cy="479.2" rx="2.0" ry="1.9" fill="none" stroke="#1c1c1c" stroke-width="1.22"/>
<path d="M448.4 495.5 L448.4 510.6 L452.5 510.9 L452.5 495.5 L450.5 494.3 Z" fill="none" stroke="#1c1c1c" stroke-width="1.22"/>
<path d="M450.3 496.0 L450.3 510.0" fill="none" stroke="#1c1c1c" stroke-width="0.73"/>
<path d="M438 527c0 -5.5 5 -10.5 11.3 -10.5s11 5 11 10.5c0 3.4 -5 6.6 -11 6.6s-11.3 -3.2 -11.3 -6.6z" fill="none" stroke="#1c1c1c" stroke-width="1.1"/>
<ellipse cx="449.2" cy="519.8" rx="1.3" ry="0.8" fill="#1c1c1c" stroke="#1c1c1c" stroke-width="0.98"/>
<ellipse cx="558.0" cy="154.6" rx="2.8" ry="4.0" fill="none" stroke="#1c1c1c" stroke-width="1.34"/>
<ellipse cx="557.6" cy="154.8" rx="1.4" ry="2.3" fill="none" stroke="#1c1c1c" stroke-width="0.98"/>
<path d="M548.5 157.5 L553.5 156.2" fill="none" stroke="#1c1c1c" stroke-width="0.98" stroke-dasharray="3 2"/>
<ellipse cx="574.2" cy="150.8" rx="2.2" ry="2.4" fill="none" stroke="#1c1c1c" stroke-width="1.34"/>
<ellipse cx="571.6" cy="151.5" rx="1.2" ry="1.3" fill="none" stroke="#1c1c1c" stroke-width="1.10"/>
<ellipse cx="572.3" cy="180.3" rx="2.8" ry="3.0" fill="none" stroke="#1c1c1c" stroke-width="1.46"/>
<ellipse cx="572.1" cy="180.4" rx="1.2" ry="1.3" fill="none" stroke="#1c1c1c" stroke-width="0.98"/>
<path d="M569.5 181.5 L566.2 183.3" fill="none" stroke="#1c1c1c" stroke-width="3.17"/>
<path d="M569.5 181.5 L566.2 183.3" fill="none" stroke="#fff" stroke-width="1.22"/>
<ellipse cx="566.0" cy="183.4" rx="1.0" ry="1.4" fill="none" stroke="#1c1c1c" stroke-width="0.98"/>
<ellipse cx="543.2" cy="243.5" rx="2.7" ry="2.9" fill="none" stroke="#1c1c1c" stroke-width="1.46"/>
<ellipse cx="543.0" cy="243.6" rx="1.2" ry="1.3" fill="none" stroke="#1c1c1c" stroke-width="0.98"/>
<path d="M540.7 245.0 L536.6 247.3" fill="none" stroke="#1c1c1c" stroke-width="3.17"/>
<path d="M540.7 245.0 L536.6 247.3" fill="none" stroke="#fff" stroke-width="1.22"/>
<ellipse cx="536.4" cy="247.4" rx="1.0" ry="1.4" fill="none" stroke="#1c1c1c" stroke-width="0.98"/>
<ellipse cx="377.2" cy="407.2" rx="2.9" ry="2.0" fill="none" stroke="#1c1c1c" stroke-width="1.59" transform="rotate(-15.0 377.2 407.2)"/>
<path d="M375.6 409.0 L376.2 412.6 L378.4 412.3 L378.8 408.6" fill="none" stroke="#1c1c1c" stroke-width="1.46"/>
<ellipse cx="386.8" cy="403.6" rx="3.3" ry="3.3" fill="none" stroke="#1c1c1c" stroke-width="1.22"/>
<ellipse cx="386.8" cy="403.6" rx="1.5" ry="1.5" fill="none" stroke="#1c1c1c" stroke-width="1.10"/>
<path d="M539.0 99.5 L571.0 89.0" fill="none" stroke="#1c1c1c" stroke-width="0.98" stroke-dasharray="9 2 2 2"/>
<path d="M562.6 149.2 L582.7 133.4" fill="none" stroke="#1c1c1c" stroke-width="1.10"/>
<path d="M576.8 151.6 L591.0 154.0" fill="none" stroke="#1c1c1c" stroke-width="1.10"/>
<path d="M575.7 181.0 L591.0 184.7" fill="none" stroke="#1c1c1c" stroke-width="1.10"/>
<path d="M547.3 244.5 L576.4 251.0" fill="none" stroke="#1c1c1c" stroke-width="1.10"/>
<path d="M515.5 292.3 L574.5 302.7" fill="none" stroke="#1c1c1c" stroke-width="0.98" stroke-dasharray="10 2 2 2"/>
<path d="M541.8 398.6 L570.0 402.3" fill="none" stroke="#1c1c1c" stroke-width="1.10"/>
<path d="M507.3 444.0 L534.5 459.5" fill="none" stroke="#1c1c1c" stroke-width="1.10"/>
<path d="M478.2 436.8 L506.4 478.2" fill="none" stroke="#1c1c1c" stroke-width="1.10"/>
<path d="M470.0 468.2 L492.7 489.0" fill="none" stroke="#1c1c1c" stroke-width="1.10"/>
<path d="M466.4 481.8 L481.0 496.4" fill="none" stroke="#1c1c1c" stroke-width="1.10"/>
<path d="M453.6 489.0 L469.0 506.4" fill="none" stroke="#1c1c1c" stroke-width="1.10"/>
<path d="M423.6 520.0 L447.3 503.6" fill="none" stroke="#1c1c1c" stroke-width="1.10"/>
<path d="M409.0 495.5 L435.5 482.7" fill="none" stroke="#1c1c1c" stroke-width="1.10"/>
<path d="M441.0 377.7 L449.0 379.5" fill="none" stroke="#1c1c1c" stroke-width="0.98"/>
<path d="M444.0 303.0 L452.5 317.0" fill="none" stroke="#1c1c1c" stroke-width="0.73" stroke-dasharray="2 2" opacity="0.7"/>
<path d="M256.2 119.8 L276.5 133.6" fill="none" stroke="#1c1c1c" stroke-width="0.85" stroke-dasharray="4 3" opacity="0.7"/>
<path d="M162.0 199.0 L187.0 208.0" fill="none" stroke="#1c1c1c" stroke-width="0.85" stroke-dasharray="5 3 1 3" opacity="0.7"/>
<path d="M112.7 216.4 L132.7 226.4" fill="none" stroke="#1c1c1c" stroke-width="1.10"/>
<path d="M105.5 269.0 L120.0 271.8" fill="none" stroke="#1c1c1c" stroke-width="0.85" stroke-dasharray="4 3" opacity="0.8"/>
<path d="M156.4 268.2 L162.7 271.8" fill="none" stroke="#1c1c1c" stroke-width="0.85" stroke-dasharray="3 2"/>
<path d="M171.0 270.0 L190.0 257.3" fill="none" stroke="#1c1c1c" stroke-width="1.10"/>
<path d="M163.6 277.3 L155.5 283.6" fill="none" stroke="#1c1c1c" stroke-width="1.10"/>
<path d="M168.2 319.0 L174.5 328.2" fill="none" stroke="#1c1c1c" stroke-width="1.10"/>
<path d="M180.0 311.8 L185.5 318.2" fill="none" stroke="#1c1c1c" stroke-width="1.10"/>
<path d="M104.5 357.3 L115.5 359.0" fill="none" stroke="#1c1c1c" stroke-width="0.73" stroke-dasharray="3 2" opacity="0.7"/>
<path d="M109.6 374.2 L138.0 361.8" fill="none" stroke="#1c1c1c" stroke-width="1.10"/>
<path d="M129.2 397.4 L140.9 377.0" fill="none" stroke="#1c1c1c" stroke-width="1.10"/>
<path d="M129.2 397.4 L136.5 396.0" fill="none" stroke="#1c1c1c" stroke-width="1.10"/>
<path d="M156.5 366.1 L171.4 390.0" fill="none" stroke="#1c1c1c" stroke-width="1.10"/>
<path d="M360.5 400.0 L372.3 406.4" fill="none" stroke="#1c1c1c" stroke-width="0.98" stroke-dasharray="5 3"/>
<path d="M392.3 407.3 L403.2 416.4" fill="none" stroke="#1c1c1c" stroke-width="0.98"/>
<path d="M335.0 453.6 L321.4 464.5" fill="none" stroke="#1c1c1c" stroke-width="1.10"/>
<text transform="translate(572.80 90.45) scale(0.710 1)" font-size="8.84">1</text>
<text transform="translate(584.08 133.76) scale(1.006 1)" font-size="9.00">17a</text>
<text transform="translate(592.72 157.95) scale(0.943 1)" font-size="8.99">17</text>
<text transform="translate(593.18 188.15) scale(1.074 1)" font-size="9.71">2</text>
<text transform="translate(578.27 255.86) scale(1.041 1)" font-size="8.73">18</text>
<text transform="translate(577.16 306.64) scale(0.939 1)" font-size="9.41">74</text>
<text transform="translate(574.58 405.55) scale(1.043 1)" font-size="10.00">3</text>
<text transform="translate(536.60 466.15) scale(1.030 1)" font-size="9.71">7</text>
<text transform="translate(508.07 485.85) scale(1.096 1)" font-size="9.72">6</text>
<text transform="translate(493.97 495.55) scale(1.111 1)" font-size="9.58">3</text>
<text transform="translate(481.38 503.35) scale(0.801 1)" font-size="9.71">15</text>
<text transform="translate(467.60 514.85) scale(0.891 1)" font-size="9.86">16</text>
<text transform="translate(411.99 523.85) scale(0.917 1)" font-size="9.71">14</text>
<text transform="translate(401.22 500.65) scale(0.944 1)" font-size="9.56">4</text>
<text transform="translate(436.02 379.94) scale(1.027 1)" font-size="8.97">4</text>
<text transform="translate(435.33 346.66) scale(1.240 1)" font-size="9.44">3</text>
<text transform="translate(434.48 301.16) scale(0.997 1)" font-size="9.01">13</text>
<text transform="translate(435.03 267.76) scale(0.933 1)" font-size="9.29">45</text>
<text transform="translate(337.60 261.65) scale(1.019 1)" font-size="9.72">49</text>
<text transform="translate(283.01 371.86) scale(1.009 1)" font-size="9.44">43</text>
<text transform="translate(347.02 401.54) scale(0.988 1)" font-size="9.26">44</text>
<text transform="translate(402.57 425.15) scale(1.087 1)" font-size="10.00">86</text>
<text transform="translate(310.43 472.86) scale(1.016 1)" font-size="9.44">19</text>
<text transform="translate(226.23 267.95) scale(0.892 1)" font-size="9.71">47</text>
<text transform="translate(185.24 326.25) scale(0.839 1)" font-size="9.86">12</text>
<text transform="translate(171.06 335.15) scale(0.791 1)" font-size="10.14">11</text>
<text transform="translate(243.35 122.04) scale(1.038 1)" font-size="10.85">80</text>
<text transform="translate(150.70 201.76) scale(1.051 1)" font-size="9.43">45</text>
<text transform="translate(99.76 216.86) scale(0.974 1)" font-size="9.44">13</text>
<text transform="translate(97.14 270.86) scale(1.046 1)" font-size="8.73">9</text>
<text transform="translate(164.21 276.76) scale(1.053 1)" font-size="9.30">8</text>
<text transform="translate(94.68 359.66) scale(0.971 1)" font-size="8.73">9</text>
<text transform="translate(98.69 377.85) scale(0.915 1)" font-size="9.72">16</text>
<text transform="translate(118.06 405.45) scale(0.934 1)" font-size="9.86">14</text>
<text transform="translate(170.00 398.16) scale(0.992 1)" font-size="8.86">15</text>
<text font-size="12.5" font-style="italic" style="fill:#6a6a6a;stroke:none" transform="translate(748.5 6.5) rotate(90)" textLength="87" lengthAdjust="spacing">REGENT. FIRES</text>
</svg></body></html>
